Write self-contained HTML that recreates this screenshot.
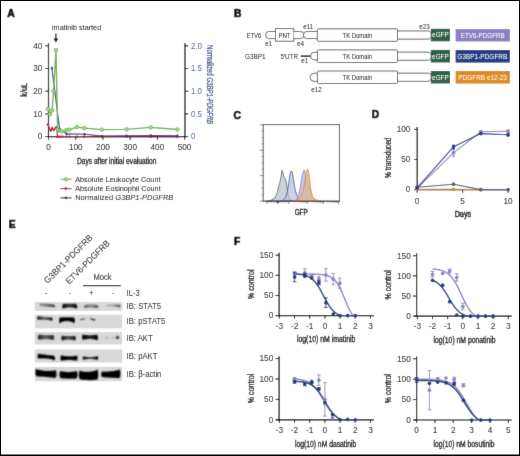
<!DOCTYPE html>
<html><head><meta charset="utf-8"><style>
html,body{margin:0;padding:0;background:#fff;}
body{width:520px;height:456px;overflow:hidden;}
svg{display:block;font-family:"Liberation Sans", sans-serif;}
</style></head><body>
<svg width="520" height="456" viewBox="0 0 520 456">
<defs><filter id="gb" x="0" y="0" width="520" height="456" filterUnits="userSpaceOnUse"><feConvolveMatrix order="3" kernelMatrix="0.0108 0.1040 0.0108 0.1040 1.0000 0.1040 0.0108 0.1040 0.0108" divisor="1.4592" edgeMode="duplicate"/></filter></defs>
<g filter="url(#gb)">
<rect x="0" y="0" width="520" height="456" fill="#fff"/>
<text x="7.2" y="16.6" font-size="10.4" font-weight="bold" stroke="#000" stroke-width="0.7">A</text>
<text x="52" y="29.9" font-size="7.98" textLength="49.2" lengthAdjust="spacingAndGlyphs">imatinib started</text>
<line x1="55.9" y1="33.5" x2="55.9" y2="39.5" stroke="#000" stroke-width="1.1"/>
<path d="M53.6,38.6 L58.2,38.6 L55.9,42.8 Z" fill="#000"/>
<line x1="48.5" y1="43.2" x2="48.5" y2="137.3" stroke="#000" stroke-width="1.2"/>
<line x1="45.2" y1="136.6" x2="48.5" y2="136.6" stroke="#000" stroke-width="1"/>
<text x="42.3" y="139.4" font-size="8.2" text-anchor="end">0</text>
<line x1="45.2" y1="113.9" x2="48.5" y2="113.9" stroke="#000" stroke-width="1"/>
<text x="42.3" y="116.7" font-size="8.2" text-anchor="end">10</text>
<line x1="45.2" y1="91.2" x2="48.5" y2="91.2" stroke="#000" stroke-width="1"/>
<text x="42.3" y="94" font-size="8.2" text-anchor="end">20</text>
<line x1="45.2" y1="68.5" x2="48.5" y2="68.5" stroke="#000" stroke-width="1"/>
<text x="42.3" y="71.3" font-size="8.2" text-anchor="end">30</text>
<line x1="45.2" y1="45.8" x2="48.5" y2="45.8" stroke="#000" stroke-width="1"/>
<text x="42.3" y="48.6" font-size="8.2" text-anchor="end">40</text>
<line x1="185" y1="43.2" x2="185" y2="137.3" stroke="#000" stroke-width="1.2"/>
<line x1="185" y1="136.6" x2="188.2" y2="136.6" stroke="#000" stroke-width="1"/>
<text x="191" y="139.4" font-size="8.53" fill="#3d5594" textLength="4.39" lengthAdjust="spacingAndGlyphs">0</text>
<line x1="185" y1="113.9" x2="188.2" y2="113.9" stroke="#000" stroke-width="1"/>
<text x="191" y="116.7" font-size="8.53" fill="#3d5594" textLength="10.98" lengthAdjust="spacingAndGlyphs">0.5</text>
<line x1="185" y1="91.2" x2="188.2" y2="91.2" stroke="#000" stroke-width="1"/>
<text x="191" y="94" font-size="8.53" fill="#3d5594" textLength="10.98" lengthAdjust="spacingAndGlyphs">1.0</text>
<line x1="185" y1="68.5" x2="188.2" y2="68.5" stroke="#000" stroke-width="1"/>
<text x="191" y="71.3" font-size="8.53" fill="#3d5594" textLength="10.98" lengthAdjust="spacingAndGlyphs">1.5</text>
<line x1="185" y1="45.8" x2="188.2" y2="45.8" stroke="#000" stroke-width="1"/>
<text x="191" y="48.6" font-size="8.53" fill="#3d5594" textLength="10.98" lengthAdjust="spacingAndGlyphs">2.0</text>
<line x1="47.9" y1="136.7" x2="185.6" y2="136.7" stroke="#000" stroke-width="1.2"/>
<line x1="48.5" y1="136.7" x2="48.5" y2="139.8" stroke="#000" stroke-width="1"/>
<text x="48.5" y="150.2" font-size="8.2" text-anchor="middle">0</text>
<line x1="75.72" y1="136.7" x2="75.72" y2="139.8" stroke="#000" stroke-width="1"/>
<text x="75.72" y="150.2" font-size="8.2" text-anchor="middle">100</text>
<line x1="102.94" y1="136.7" x2="102.94" y2="139.8" stroke="#000" stroke-width="1"/>
<text x="102.94" y="150.2" font-size="8.2" text-anchor="middle">200</text>
<line x1="130.16" y1="136.7" x2="130.16" y2="139.8" stroke="#000" stroke-width="1"/>
<text x="130.16" y="150.2" font-size="8.2" text-anchor="middle">300</text>
<line x1="157.38" y1="136.7" x2="157.38" y2="139.8" stroke="#000" stroke-width="1"/>
<text x="157.38" y="150.2" font-size="8.2" text-anchor="middle">400</text>
<line x1="184.6" y1="136.7" x2="184.6" y2="139.8" stroke="#000" stroke-width="1"/>
<text x="184.6" y="150.2" font-size="8.2" text-anchor="middle">500</text>
<text transform="translate(27.4 89.8) rotate(-90)" font-size="9.4" text-anchor="middle" stroke="#000" stroke-width="0.3" textLength="14" lengthAdjust="spacingAndGlyphs">k/uL</text>
<text transform="translate(207.0 84.6) rotate(90)" font-size="9.4" text-anchor="middle" fill="#3d5594" stroke="#3d5594" stroke-width="0.32" textLength="79" lengthAdjust="spacingAndGlyphs">Normalized <tspan font-style="italic">G3BP1-PDGFRB</tspan></text>
<text x="76.9" y="163.6" font-size="9.7" stroke="#000" stroke-width="0.3" textLength="79.6" lengthAdjust="spacingAndGlyphs">Days after initial evaluation</text>
<polyline points="47.8,124.5 50.7,130.4 52.1,128 53.7,130.1 55.8,127.7 56.7,127.2 57.4,136.8 58.5,136.8 60.6,136.8 62.6,136.8 66.6,136.8 69.8,136.8 76.9,136.8 84.3,136.8 101.8,136.8 126.5,136.8 150.8,136.8 177.4,136.8" fill="none" stroke="#b5123a" stroke-width="1.1" stroke-linejoin="round"/>
<circle cx="47.8" cy="124.5" r="1.25" fill="#b5123a"/>
<circle cx="50.7" cy="130.4" r="1.25" fill="#b5123a"/>
<circle cx="52.1" cy="128" r="1.25" fill="#b5123a"/>
<circle cx="53.7" cy="130.1" r="1.25" fill="#b5123a"/>
<circle cx="55.8" cy="127.7" r="1.25" fill="#b5123a"/>
<circle cx="56.7" cy="127.2" r="1.25" fill="#b5123a"/>
<circle cx="57.4" cy="136.8" r="1.25" fill="#b5123a"/>
<circle cx="58.5" cy="136.8" r="1.25" fill="#b5123a"/>
<circle cx="60.6" cy="136.8" r="1.25" fill="#b5123a"/>
<circle cx="62.6" cy="136.8" r="1.25" fill="#b5123a"/>
<circle cx="66.6" cy="136.8" r="1.25" fill="#b5123a"/>
<circle cx="69.8" cy="136.8" r="1.25" fill="#b5123a"/>
<circle cx="76.9" cy="136.8" r="1.25" fill="#b5123a"/>
<circle cx="84.3" cy="136.8" r="1.25" fill="#b5123a"/>
<circle cx="101.8" cy="136.8" r="1.25" fill="#b5123a"/>
<circle cx="126.5" cy="136.8" r="1.25" fill="#b5123a"/>
<circle cx="150.8" cy="136.8" r="1.25" fill="#b5123a"/>
<circle cx="177.4" cy="136.8" r="1.25" fill="#b5123a"/>
<polyline points="51.9,68.1 59.6,129 66.6,133.9 84.6,134.2 101.8,136 126.5,135.8 150.8,135.5 177.4,135.8" fill="none" stroke="#1f3c80" stroke-width="1.1" stroke-linejoin="round"/>
<circle cx="51.9" cy="68.1" r="1.3" fill="#1f3c80"/>
<circle cx="59.6" cy="129" r="1.3" fill="#1f3c80"/>
<circle cx="66.6" cy="133.9" r="1.3" fill="#1f3c80"/>
<circle cx="84.6" cy="134.2" r="1.3" fill="#1f3c80"/>
<circle cx="101.8" cy="136" r="1.3" fill="#1f3c80"/>
<circle cx="126.5" cy="135.8" r="1.3" fill="#1f3c80"/>
<circle cx="150.8" cy="135.5" r="1.3" fill="#1f3c80"/>
<circle cx="177.4" cy="135.8" r="1.3" fill="#1f3c80"/>
<polyline points="48,109 49.9,114.2 52.2,110.3 53.5,91.2 56,50.1 57.6,129.5 59.5,130.7 61.8,131.4 66.2,130.1 69.5,129.6 76.9,127 84.3,128.1 101.8,129.6 126.5,129.3 150.8,127.4 177.4,129.5" fill="none" stroke="#6db24f" stroke-width="1.35" stroke-linejoin="round"/>
<circle cx="48" cy="109" r="1.7" fill="#b3d99f" stroke="#6db24f" stroke-width="1"/>
<circle cx="49.9" cy="114.2" r="1.7" fill="#b3d99f" stroke="#6db24f" stroke-width="1"/>
<circle cx="52.2" cy="110.3" r="1.7" fill="#b3d99f" stroke="#6db24f" stroke-width="1"/>
<circle cx="53.5" cy="91.2" r="1.7" fill="#b3d99f" stroke="#6db24f" stroke-width="1"/>
<circle cx="56" cy="50.1" r="1.7" fill="#b3d99f" stroke="#6db24f" stroke-width="1"/>
<circle cx="57.6" cy="129.5" r="1.7" fill="#b3d99f" stroke="#6db24f" stroke-width="1"/>
<circle cx="59.5" cy="130.7" r="1.7" fill="#b3d99f" stroke="#6db24f" stroke-width="1"/>
<circle cx="61.8" cy="131.4" r="1.7" fill="#b3d99f" stroke="#6db24f" stroke-width="1"/>
<circle cx="66.2" cy="130.1" r="1.7" fill="#b3d99f" stroke="#6db24f" stroke-width="1"/>
<circle cx="69.5" cy="129.6" r="1.7" fill="#b3d99f" stroke="#6db24f" stroke-width="1"/>
<circle cx="76.9" cy="127" r="1.7" fill="#b3d99f" stroke="#6db24f" stroke-width="1"/>
<circle cx="84.3" cy="128.1" r="1.7" fill="#b3d99f" stroke="#6db24f" stroke-width="1"/>
<circle cx="101.8" cy="129.6" r="1.7" fill="#b3d99f" stroke="#6db24f" stroke-width="1"/>
<circle cx="126.5" cy="129.3" r="1.7" fill="#b3d99f" stroke="#6db24f" stroke-width="1"/>
<circle cx="150.8" cy="127.4" r="1.7" fill="#b3d99f" stroke="#6db24f" stroke-width="1"/>
<circle cx="177.4" cy="129.5" r="1.7" fill="#b3d99f" stroke="#6db24f" stroke-width="1"/>
<line x1="60.4" y1="179.3" x2="71.6" y2="179.3" stroke="#6db24f" stroke-width="1.1"/>
<circle cx="65.9" cy="179.3" r="1.7" fill="#b3d99f" stroke="#6db24f" stroke-width="1"/>
<text x="75.2" y="181.8" font-size="8.0" textLength="85.3" lengthAdjust="spacingAndGlyphs">Absolute Leukocyte Count</text>
<line x1="60.4" y1="188.6" x2="71.6" y2="188.6" stroke="#b5123a" stroke-width="1.1"/>
<circle cx="65.9" cy="188.6" r="1.4" fill="#b5123a"/>
<text x="75.2" y="191.1" font-size="8.0" textLength="85.5" lengthAdjust="spacingAndGlyphs">Absolute Eosinophil Count</text>
<line x1="60.4" y1="197.9" x2="71.6" y2="197.9" stroke="#1f3c80" stroke-width="1.1"/>
<circle cx="65.9" cy="197.9" r="1.4" fill="#1f3c80"/>
<text x="75.2" y="200.4" font-size="8.0" textLength="98.2" lengthAdjust="spacingAndGlyphs">Normalized <tspan font-style="italic">G3BP1-PDGFRB</tspan></text>
<text x="233.9" y="16.9" font-size="10.2" font-weight="bold" stroke="#000" stroke-width="0.7">B</text>
<text x="246.4" y="37.9" font-size="7.34" textLength="15" lengthAdjust="spacingAndGlyphs">ETV6</text>
<text x="245" y="58.5" font-size="7.36" textLength="20.6" lengthAdjust="spacingAndGlyphs">G3BP1</text>
<path d="M275.5,31.5 L269.05,31.5 A3.55,3.55 0 0 0 269.05,38.6 L275.5,38.6" fill="#fff" stroke="#555" stroke-width="0.9"/>
<rect x="275.5" y="28.6" width="18.3" height="12.6" fill="#fff" stroke="#555" stroke-width="0.9"/>
<text x="284.5" y="37.7" font-size="7.26" text-anchor="middle" textLength="12.2" lengthAdjust="spacingAndGlyphs">PNT</text>
<path d="M293.8,31.5 L300.45,31.5 A3.55,3.55 0 0 1 300.45,38.6 L293.8,38.6" fill="#fff" stroke="#555" stroke-width="0.9"/>
<path d="M317.4,31.5 L306.95,31.5 A3.55,3.55 0 0 0 306.95,38.6 L317.4,38.6" fill="#fff" stroke="#555" stroke-width="0.9"/>
<text x="268.8" y="45.6" font-size="6.93" text-anchor="middle" textLength="7.01" lengthAdjust="spacingAndGlyphs">e1</text>
<text x="300.4" y="45.6" font-size="6.93" text-anchor="middle" textLength="7.01" lengthAdjust="spacingAndGlyphs">e4</text>
<text x="308.2" y="28.6" font-size="6.93" text-anchor="middle" textLength="10.04" lengthAdjust="spacingAndGlyphs">e11</text>
<text x="424.5" y="29" font-size="6.93" text-anchor="middle" textLength="10.51" lengthAdjust="spacingAndGlyphs">e23</text>
<text x="280.4" y="58.5" font-size="7.06" textLength="17.6" lengthAdjust="spacingAndGlyphs">5'UTR</text>
<line x1="300.8" y1="56.2" x2="310.8" y2="56.2" stroke="#000" stroke-width="1.5"/>
<path d="M317.4,52.3 L314.3,52.3 A3.8,3.8 0 0 0 314.3,59.9 L317.4,59.9" fill="#fff" stroke="#555" stroke-width="0.9"/>
<text x="304.8" y="62.6" font-size="6.93" text-anchor="middle" textLength="7.01" lengthAdjust="spacingAndGlyphs">e1</text>
<path d="M317.4,73.3 L314.1,73.3 A4,4 0 0 0 314.1,81.3 L317.4,81.3" fill="#fff" stroke="#555" stroke-width="0.9"/>
<text x="316.6" y="91.6" font-size="6.93" text-anchor="middle" textLength="10.51" lengthAdjust="spacingAndGlyphs">e12</text>
<path d="M397,30.95 L427.4,30.95 A4.1,4.1 0 0 1 427.4,39.15 L397,39.15" fill="#fff" stroke="#555" stroke-width="0.9"/>
<rect x="317.4" y="28.8" width="80.1" height="12.5" fill="#fff" stroke="#555" stroke-width="0.9" rx="1"/>
<text x="357.4" y="37.55" font-size="7.2" text-anchor="middle" textLength="29.6" lengthAdjust="spacingAndGlyphs">TK Domain</text>
<rect x="430.8" y="28.8" width="19.2" height="12.5" fill="#2f6148"/>
<text x="440.4" y="37.45" font-size="7.04" text-anchor="middle" fill="#fff" textLength="16.6" lengthAdjust="spacingAndGlyphs">eGFP</text>
<path d="M397,52.1 L427.4,52.1 A4.1,4.1 0 0 1 427.4,60.3 L397,60.3" fill="#fff" stroke="#555" stroke-width="0.9"/>
<rect x="317.4" y="49.9" width="80.1" height="12.6" fill="#fff" stroke="#555" stroke-width="0.9" rx="1"/>
<text x="357.4" y="58.7" font-size="7.2" text-anchor="middle" textLength="29.6" lengthAdjust="spacingAndGlyphs">TK Domain</text>
<rect x="430.8" y="49.9" width="19.2" height="12.6" fill="#2f6148"/>
<text x="440.4" y="58.6" font-size="7.04" text-anchor="middle" fill="#fff" textLength="16.6" lengthAdjust="spacingAndGlyphs">eGFP</text>
<path d="M397,73.15 L427.4,73.15 A4.1,4.1 0 0 1 427.4,81.35 L397,81.35" fill="#fff" stroke="#555" stroke-width="0.9"/>
<rect x="317.4" y="71" width="80.1" height="12.5" fill="#fff" stroke="#555" stroke-width="0.9" rx="1"/>
<text x="357.4" y="79.75" font-size="7.2" text-anchor="middle" textLength="29.6" lengthAdjust="spacingAndGlyphs">TK Domain</text>
<rect x="430.8" y="71" width="19.2" height="12.5" fill="#2f6148"/>
<text x="440.4" y="79.65" font-size="7.04" text-anchor="middle" fill="#fff" textLength="16.6" lengthAdjust="spacingAndGlyphs">eGFP</text>
<rect x="455.6" y="29.1" width="54.3" height="12.4" fill="#8b80c2"/>
<text x="482.75" y="37.7" font-size="7.13" text-anchor="middle" fill="#fff" textLength="44" lengthAdjust="spacingAndGlyphs">ETV6-PDGFRB</text>
<rect x="455.6" y="50" width="54.3" height="12.6" fill="#213e82"/>
<text x="482.35" y="58.7" font-size="7.13" text-anchor="middle" fill="#fff" textLength="50" lengthAdjust="spacingAndGlyphs">G3BP1-PDGFRB</text>
<rect x="455.6" y="71" width="54.3" height="12.6" fill="#dd8c1b"/>
<text x="482.65" y="79.7" font-size="7.13" text-anchor="middle" fill="#fff" textLength="48.6" lengthAdjust="spacingAndGlyphs">PDGFRB e12-23</text>
<text x="233.6" y="118.6" font-size="10.2" font-weight="bold" stroke="#000" stroke-width="0.7">C</text>
<rect x="263.2" y="124.6" width="76.2" height="76.6" fill="none" stroke="#505050" stroke-width="1"/>
<line x1="260" y1="124.9" x2="263.2" y2="124.9" stroke="#6a6a6a" stroke-width="0.8"/>
<line x1="261.6" y1="131.24" x2="263.2" y2="131.24" stroke="#6a6a6a" stroke-width="0.8"/>
<line x1="261.6" y1="137.58" x2="263.2" y2="137.58" stroke="#6a6a6a" stroke-width="0.8"/>
<line x1="261.6" y1="143.92" x2="263.2" y2="143.92" stroke="#6a6a6a" stroke-width="0.8"/>
<line x1="260" y1="150.26" x2="263.2" y2="150.26" stroke="#6a6a6a" stroke-width="0.8"/>
<line x1="261.6" y1="156.6" x2="263.2" y2="156.6" stroke="#6a6a6a" stroke-width="0.8"/>
<line x1="261.6" y1="162.94" x2="263.2" y2="162.94" stroke="#6a6a6a" stroke-width="0.8"/>
<line x1="261.6" y1="169.28" x2="263.2" y2="169.28" stroke="#6a6a6a" stroke-width="0.8"/>
<line x1="260" y1="175.62" x2="263.2" y2="175.62" stroke="#6a6a6a" stroke-width="0.8"/>
<line x1="261.6" y1="181.96" x2="263.2" y2="181.96" stroke="#6a6a6a" stroke-width="0.8"/>
<line x1="261.6" y1="188.3" x2="263.2" y2="188.3" stroke="#6a6a6a" stroke-width="0.8"/>
<line x1="261.6" y1="194.64" x2="263.2" y2="194.64" stroke="#6a6a6a" stroke-width="0.8"/>
<line x1="260" y1="200.98" x2="263.2" y2="200.98" stroke="#6a6a6a" stroke-width="0.8"/>
<line x1="267" y1="201.2" x2="267" y2="203.8" stroke="#555" stroke-width="0.8"/>
<line x1="277.8" y1="201.2" x2="277.8" y2="203.8" stroke="#555" stroke-width="0.8"/>
<line x1="288.9" y1="201.2" x2="288.9" y2="203.8" stroke="#555" stroke-width="0.8"/>
<line x1="307.7" y1="201.2" x2="307.7" y2="203.8" stroke="#555" stroke-width="0.8"/>
<line x1="323.4" y1="201.2" x2="323.4" y2="203.8" stroke="#555" stroke-width="0.8"/>
<line x1="338.6" y1="201.2" x2="338.6" y2="203.8" stroke="#555" stroke-width="0.8"/>
<line x1="269.16" y1="201.2" x2="269.16" y2="202.6" stroke="#666" stroke-width="0.7"/>
<line x1="271.32" y1="201.2" x2="271.32" y2="202.6" stroke="#666" stroke-width="0.7"/>
<line x1="273.48" y1="201.2" x2="273.48" y2="202.6" stroke="#666" stroke-width="0.7"/>
<line x1="275.64" y1="201.2" x2="275.64" y2="202.6" stroke="#666" stroke-width="0.7"/>
<line x1="280.02" y1="201.2" x2="280.02" y2="202.6" stroke="#666" stroke-width="0.7"/>
<line x1="282.24" y1="201.2" x2="282.24" y2="202.6" stroke="#666" stroke-width="0.7"/>
<line x1="284.46" y1="201.2" x2="284.46" y2="202.6" stroke="#666" stroke-width="0.7"/>
<line x1="286.68" y1="201.2" x2="286.68" y2="202.6" stroke="#666" stroke-width="0.7"/>
<line x1="294.56" y1="201.2" x2="294.56" y2="202.6" stroke="#666" stroke-width="0.7"/>
<line x1="297.87" y1="201.2" x2="297.87" y2="202.6" stroke="#666" stroke-width="0.7"/>
<line x1="300.22" y1="201.2" x2="300.22" y2="202.6" stroke="#666" stroke-width="0.7"/>
<line x1="302.04" y1="201.2" x2="302.04" y2="202.6" stroke="#666" stroke-width="0.7"/>
<line x1="303.53" y1="201.2" x2="303.53" y2="202.6" stroke="#666" stroke-width="0.7"/>
<line x1="304.79" y1="201.2" x2="304.79" y2="202.6" stroke="#666" stroke-width="0.7"/>
<line x1="305.88" y1="201.2" x2="305.88" y2="202.6" stroke="#666" stroke-width="0.7"/>
<line x1="306.84" y1="201.2" x2="306.84" y2="202.6" stroke="#666" stroke-width="0.7"/>
<line x1="312.43" y1="201.2" x2="312.43" y2="202.6" stroke="#666" stroke-width="0.7"/>
<line x1="315.19" y1="201.2" x2="315.19" y2="202.6" stroke="#666" stroke-width="0.7"/>
<line x1="317.15" y1="201.2" x2="317.15" y2="202.6" stroke="#666" stroke-width="0.7"/>
<line x1="318.67" y1="201.2" x2="318.67" y2="202.6" stroke="#666" stroke-width="0.7"/>
<line x1="319.92" y1="201.2" x2="319.92" y2="202.6" stroke="#666" stroke-width="0.7"/>
<line x1="320.97" y1="201.2" x2="320.97" y2="202.6" stroke="#666" stroke-width="0.7"/>
<line x1="321.88" y1="201.2" x2="321.88" y2="202.6" stroke="#666" stroke-width="0.7"/>
<line x1="322.68" y1="201.2" x2="322.68" y2="202.6" stroke="#666" stroke-width="0.7"/>
<line x1="327.98" y1="201.2" x2="327.98" y2="202.6" stroke="#666" stroke-width="0.7"/>
<line x1="330.65" y1="201.2" x2="330.65" y2="202.6" stroke="#666" stroke-width="0.7"/>
<line x1="332.55" y1="201.2" x2="332.55" y2="202.6" stroke="#666" stroke-width="0.7"/>
<line x1="334.02" y1="201.2" x2="334.02" y2="202.6" stroke="#666" stroke-width="0.7"/>
<line x1="335.23" y1="201.2" x2="335.23" y2="202.6" stroke="#666" stroke-width="0.7"/>
<line x1="336.25" y1="201.2" x2="336.25" y2="202.6" stroke="#666" stroke-width="0.7"/>
<line x1="337.13" y1="201.2" x2="337.13" y2="202.6" stroke="#666" stroke-width="0.7"/>
<line x1="337.9" y1="201.2" x2="337.9" y2="202.6" stroke="#666" stroke-width="0.7"/>
<rect x="276.8" y="201" width="2" height="2" fill="#111"/>
<path d="M267.5,200.8 L267.5,200.8 L270.9,200.3 L275,198 L277.3,192.8 L278.4,187 L279.6,183.6 L281.1,176.7 L281.9,170.3 L282.7,172 L283.6,176.1 L285.3,179 L286.5,183 L287,187 L287.6,191.7 L288.8,197.4 L291.1,200.3 L293,200.8 L293,200.8 Z" fill="#c7c9d1" fill-opacity="0.85" stroke="#505a70" stroke-width="0.8"/>
<path d="M281,200.8 L281,200.8 L283,200.3 L285.9,196.9 L287.6,190.5 L288.8,182.5 L290,174.4 L291.1,170.7 L292.3,172 L293.4,179 L294.6,187 L296.3,194 L298.6,198.6 L300.9,200.5 L302.5,200.8 L302.5,200.8 Z" fill="#bfc3de" fill-opacity="0.75" stroke="#3a5498" stroke-width="0.8"/>
<path d="M294,200.8 L294,200.8 L296.3,200.3 L298.6,195.1 L300.3,187 L301.5,179 L302.6,173.8 L304.1,169.8 L304.9,172 L306.1,176.7 L307.5,181.5 L308.8,186 L310.1,190.5 L311.5,195 L313,198 L315.5,200.3 L317,200.8 L317,200.8 Z" fill="#b9b0e0" fill-opacity="0.75" stroke="#8a80cc" stroke-width="0.8"/>
<path d="M293,200.8 L293,200.8 L295.1,200.6 L298.5,199 L300.9,196.3 L303.2,190.5 L304.9,181.3 L306.1,173.2 L307.3,169.2 L308.4,170.9 L309.6,179 L310.7,189.4 L312.4,196.3 L315.9,199.8 L319.4,200.6 L321,200.8 L321,200.8 Z" fill="#d9b89a" fill-opacity="0.8" stroke="#e0901e" stroke-width="0.9"/>
<line x1="263.2" y1="201.2" x2="339.4" y2="201.2" stroke="#404040" stroke-width="1"/>
<text x="301.2" y="215.4" font-size="9" text-anchor="middle" stroke="#000" stroke-width="0.45" textLength="13" lengthAdjust="spacingAndGlyphs">GFP</text>
<text x="371.8" y="118" font-size="10.2" font-weight="bold" stroke="#000" stroke-width="0.7">D</text>
<line x1="417.2" y1="127" x2="417.2" y2="190.2" stroke="#000" stroke-width="1.2"/>
<line x1="416.8" y1="189.7" x2="509.5" y2="189.7" stroke="#000" stroke-width="1.2"/>
<line x1="414" y1="189.6" x2="417.2" y2="189.6" stroke="#000" stroke-width="1"/>
<text x="410.4" y="192.4" font-size="8.2" text-anchor="end">0</text>
<line x1="414" y1="159.5" x2="417.2" y2="159.5" stroke="#000" stroke-width="1"/>
<text x="410.4" y="162.3" font-size="8.2" text-anchor="end">50</text>
<line x1="414" y1="129.4" x2="417.2" y2="129.4" stroke="#000" stroke-width="1"/>
<text x="410.4" y="132.2" font-size="8.2" text-anchor="end">100</text>
<line x1="417.1" y1="189.7" x2="417.1" y2="192.8" stroke="#000" stroke-width="1"/>
<text x="417.1" y="203.7" font-size="8.2" text-anchor="middle">0</text>
<line x1="462.6" y1="189.7" x2="462.6" y2="192.8" stroke="#000" stroke-width="1"/>
<text x="462.6" y="203.7" font-size="8.2" text-anchor="middle">5</text>
<line x1="508.1" y1="189.7" x2="508.1" y2="192.8" stroke="#000" stroke-width="1"/>
<text x="508.1" y="203.7" font-size="8.2" text-anchor="middle">10</text>
<text transform="translate(391.4 157.7) rotate(-90)" font-size="9" text-anchor="middle" stroke="#000" stroke-width="0.3" textLength="40.5" lengthAdjust="spacingAndGlyphs">% transduced</text>
<text x="462.9" y="216.6" font-size="9" text-anchor="middle" stroke="#000" stroke-width="0.45" textLength="16.5" lengthAdjust="spacingAndGlyphs">Days</text>
<polyline points="417.1,189.42 453.5,189.3 480.8,189.6" fill="none" stroke="#de8d1c" stroke-width="1.1" stroke-linejoin="round"/>
<circle cx="417.1" cy="189.42" r="1.9" fill="#de8d1c"/>
<circle cx="453.5" cy="189.3" r="1.9" fill="#de8d1c"/>
<circle cx="480.8" cy="189.6" r="1.9" fill="#de8d1c"/>
<polyline points="417.1,187.19 453.5,184.18 480.8,189.6 508.1,189.6" fill="none" stroke="#4f5a75" stroke-width="1.1" stroke-linejoin="round"/>
<circle cx="417.1" cy="187.19" r="1.9" fill="#4f5a75"/>
<circle cx="453.5" cy="184.18" r="1.9" fill="#4f5a75"/>
<circle cx="480.8" cy="189.6" r="1.9" fill="#4f5a75"/>
<circle cx="508.1" cy="189.6" r="1.9" fill="#4f5a75"/>
<polyline points="417.1,188.4 453.5,152.88 480.8,131.81 508.1,131.21" fill="none" stroke="#8b80c4" stroke-width="1.1" stroke-linejoin="round"/>
<circle cx="417.1" cy="188.4" r="1.9" fill="#8b80c4"/>
<line x1="453.5" y1="149.27" x2="453.5" y2="156.49" stroke="#8b80c4" stroke-width="0.9"/>
<line x1="452" y1="149.27" x2="455" y2="149.27" stroke="#8b80c4" stroke-width="0.9"/>
<line x1="452" y1="156.49" x2="455" y2="156.49" stroke="#8b80c4" stroke-width="0.9"/>
<circle cx="453.5" cy="152.88" r="1.9" fill="#8b80c4"/>
<line x1="480.8" y1="130.91" x2="480.8" y2="132.71" stroke="#8b80c4" stroke-width="0.9"/>
<line x1="479.3" y1="130.91" x2="482.3" y2="130.91" stroke="#8b80c4" stroke-width="0.9"/>
<line x1="479.3" y1="132.71" x2="482.3" y2="132.71" stroke="#8b80c4" stroke-width="0.9"/>
<circle cx="480.8" cy="131.81" r="1.9" fill="#8b80c4"/>
<line x1="508.1" y1="130.3" x2="508.1" y2="132.11" stroke="#8b80c4" stroke-width="0.9"/>
<line x1="506.6" y1="130.3" x2="509.6" y2="130.3" stroke="#8b80c4" stroke-width="0.9"/>
<line x1="506.6" y1="132.11" x2="509.6" y2="132.11" stroke="#8b80c4" stroke-width="0.9"/>
<circle cx="508.1" cy="131.21" r="1.9" fill="#8b80c4"/>
<polyline points="417.1,187.79 453.5,146.86 480.8,133.61 508.1,134.82" fill="none" stroke="#1f3c80" stroke-width="1.1" stroke-linejoin="round"/>
<circle cx="417.1" cy="187.79" r="1.9" fill="#1f3c80"/>
<line x1="453.5" y1="145.05" x2="453.5" y2="148.66" stroke="#1f3c80" stroke-width="0.9"/>
<line x1="452" y1="145.05" x2="455" y2="145.05" stroke="#1f3c80" stroke-width="0.9"/>
<line x1="452" y1="148.66" x2="455" y2="148.66" stroke="#1f3c80" stroke-width="0.9"/>
<circle cx="453.5" cy="146.86" r="1.9" fill="#1f3c80"/>
<line x1="480.8" y1="132.71" x2="480.8" y2="134.52" stroke="#1f3c80" stroke-width="0.9"/>
<line x1="479.3" y1="132.71" x2="482.3" y2="132.71" stroke="#1f3c80" stroke-width="0.9"/>
<line x1="479.3" y1="134.52" x2="482.3" y2="134.52" stroke="#1f3c80" stroke-width="0.9"/>
<circle cx="480.8" cy="133.61" r="1.9" fill="#1f3c80"/>
<line x1="508.1" y1="133.61" x2="508.1" y2="136.02" stroke="#1f3c80" stroke-width="0.9"/>
<line x1="506.6" y1="133.61" x2="509.6" y2="133.61" stroke="#1f3c80" stroke-width="0.9"/>
<line x1="506.6" y1="136.02" x2="509.6" y2="136.02" stroke="#1f3c80" stroke-width="0.9"/>
<circle cx="508.1" cy="134.82" r="1.9" fill="#1f3c80"/>
<text x="8.7" y="228" font-size="10.2" font-weight="bold" stroke="#000" stroke-width="0.7">E</text>
<text transform="translate(47.6 284) rotate(-45)" font-size="8.97" textLength="64.5" lengthAdjust="spacingAndGlyphs">G3BP1-PDGFRB</text>
<text transform="translate(69.3 284.8) rotate(-45)" font-size="8.97" textLength="58" lengthAdjust="spacingAndGlyphs">ETV6-PDGFRB</text>
<text x="102.5" y="279.6" font-size="8.36" text-anchor="middle" textLength="18.16" lengthAdjust="spacingAndGlyphs">Mock</text>
<line x1="83" y1="285.6" x2="120.8" y2="285.6" stroke="#222" stroke-width="1.2"/>
<text x="46.3" y="296" font-size="8.36" text-anchor="middle" textLength="2.53" lengthAdjust="spacingAndGlyphs">-</text>
<text x="70" y="296" font-size="8.36" text-anchor="middle" textLength="2.53" lengthAdjust="spacingAndGlyphs">-</text>
<text x="91.3" y="296" font-size="8.36" text-anchor="middle" textLength="4.44" lengthAdjust="spacingAndGlyphs">+</text>
<text x="113" y="296" font-size="8.36" text-anchor="middle" textLength="2.53" lengthAdjust="spacingAndGlyphs">-</text>
<text x="126.6" y="296.4" font-size="8.36" textLength="13.1" lengthAdjust="spacingAndGlyphs">IL-3</text>
<rect x="34.8" y="302.1" width="87.3" height="8.8" fill="#d9d9d9"/>
<text x="126.6" y="309.2" font-size="8.78" textLength="34.37" lengthAdjust="spacingAndGlyphs">IB: STAT5</text>
<rect x="34.8" y="314.7" width="87.3" height="13.7" fill="#d9d9d9"/>
<text x="126.6" y="324.25" font-size="8.78" textLength="38.66" lengthAdjust="spacingAndGlyphs">IB: pSTAT5</text>
<rect x="34.8" y="332.1" width="87.3" height="12.3" fill="#d9d9d9"/>
<text x="126.6" y="340.95" font-size="8.78" textLength="26.1" lengthAdjust="spacingAndGlyphs">IB: AKT</text>
<rect x="34.8" y="349.3" width="87.3" height="13.3" fill="#d9d9d9"/>
<text x="126.6" y="358.65" font-size="8.78" textLength="30.81" lengthAdjust="spacingAndGlyphs">IB: pAKT</text>
<rect x="34.8" y="366.9" width="87.3" height="14.4" fill="#d9d9d9"/>
<text x="126.6" y="376.8" font-size="8.78" textLength="34.81" lengthAdjust="spacingAndGlyphs">IB: &#946;-actin</text>
<defs><filter id="bl" x="0" y="0" width="520" height="456" filterUnits="userSpaceOnUse"><feConvolveMatrix order="3" kernelMatrix="0.0938 0.3062 0.0938 0.3062 1.0000 0.3062 0.0938 0.3062 0.0938" divisor="2.6000" edgeMode="none"/></filter></defs>
<defs><linearGradient id="g1" x1="0" x2="1" y1="0" y2="0"><stop offset="0" stop-color="#999"/><stop offset="0.5" stop-color="#777"/><stop offset="1" stop-color="#444"/></linearGradient></defs>
<path d="M39.3,304.75 Q39.3,303.05 41.1,303.05 L40.29,303.14 L41.29,303.22 L42.28,303.31 L43.27,303.4 L44.27,303.49 L45.26,303.57 L46.26,303.66 L47.25,303.75 L48.24,303.84 L49.24,303.93 L50.23,304.01 L51.23,304.1 L52.22,304.19 L53.21,304.28 L54.21,304.36 L53.4,304.45 Q55.2,304.45 55.2,306 Q55.2,307.55 53.4,307.55 L54.21,307.42 L53.21,307.3 L52.22,307.19 L51.23,307.09 L50.23,306.99 L49.24,306.9 L48.24,306.82 L47.25,306.75 L46.26,306.69 L45.26,306.63 L44.27,306.58 L43.27,306.54 L42.28,306.5 L41.29,306.48 L40.29,306.46 L41.1,306.45 Q39.3,306.45 39.3,304.75 Z" fill="url(#g1)" filter="url(#bl)"/>
<defs><linearGradient id="g2" x1="0" x2="1" y1="0" y2="0"><stop offset="0" stop-color="#000"/><stop offset="0.5" stop-color="#333"/><stop offset="1" stop-color="#000"/></linearGradient></defs>
<path d="M62.1,306.4 Q62.1,303.85 63.9,303.85 L63.06,303.8 L64.01,303.75 L64.97,303.72 L65.92,303.69 L66.88,303.67 L67.84,303.65 L68.79,303.65 L69.75,303.65 L70.71,303.66 L71.66,303.68 L72.62,303.7 L73.58,303.74 L74.53,303.78 L75.49,303.83 L76.44,303.89 L75.6,303.95 Q77.4,303.95 77.4,306.45 Q77.4,308.95 75.6,308.95 L76.44,308.6 L75.49,308.29 L74.53,308.04 L73.58,307.82 L72.62,307.66 L71.66,307.54 L70.71,307.47 L69.75,307.45 L68.79,307.47 L67.84,307.54 L66.88,307.66 L65.92,307.82 L64.97,308.04 L64.01,308.29 L63.06,308.6 L63.9,308.95 Q62.1,308.95 62.1,306.4 Z" fill="url(#g2)" filter="url(#bl)"/>
<defs><linearGradient id="g3" x1="0" x2="1" y1="0" y2="0"><stop offset="0" stop-color="#666"/><stop offset="0.5" stop-color="#8a8a8a"/><stop offset="1" stop-color="#555"/></linearGradient></defs>
<path d="M83.8,306.5 Q83.8,305 85.6,305 L84.72,304.85 L85.64,304.73 L86.56,304.62 L87.47,304.54 L88.39,304.47 L89.31,304.43 L90.23,304.4 L91.15,304.4 L92.07,304.42 L92.99,304.45 L93.91,304.51 L94.83,304.59 L95.74,304.69 L96.66,304.8 L97.58,304.94 L96.7,305.1 Q98.5,305.1 98.5,306.7 Q98.5,308.3 96.7,308.3 L97.58,308.15 L96.66,308.02 L95.74,307.91 L94.83,307.81 L93.91,307.73 L92.99,307.67 L92.07,307.63 L91.15,307.6 L90.23,307.59 L89.31,307.6 L88.39,307.62 L87.47,307.66 L86.56,307.72 L85.64,307.8 L84.72,307.89 L85.6,308 Q83.8,308 83.8,306.5 Z" fill="url(#g3)" filter="url(#bl)"/>
<defs><linearGradient id="g4" x1="0" x2="1" y1="0" y2="0"><stop offset="0" stop-color="#bbb"/><stop offset="0.5" stop-color="#999"/><stop offset="1" stop-color="#555"/></linearGradient></defs>
<path d="M105.6,305.55 Q105.6,304.6 107.4,304.6 L106.54,304.59 L107.47,304.57 L108.41,304.56 L109.35,304.55 L110.29,304.54 L111.22,304.52 L112.16,304.51 L113.1,304.5 L114.04,304.49 L114.97,304.48 L115.91,304.46 L116.85,304.45 L117.79,304.44 L118.72,304.42 L119.66,304.41 L118.8,304.4 Q120.6,304.4 120.6,306.05 Q120.6,307.7 118.8,307.7 L119.66,307.48 L118.72,307.29 L117.79,307.11 L116.85,306.95 L115.91,306.81 L114.97,306.69 L114.04,306.58 L113.1,306.5 L112.16,306.43 L111.22,306.39 L110.29,306.36 L109.35,306.35 L108.41,306.36 L107.47,306.39 L106.54,306.43 L107.4,306.5 Q105.6,306.5 105.6,305.55 Z" fill="url(#g4)" filter="url(#bl)"/>
<defs><linearGradient id="g5" x1="0" x2="1" y1="0" y2="0"><stop offset="0" stop-color="#111"/><stop offset="0.5" stop-color="#666"/><stop offset="1" stop-color="#111"/></linearGradient></defs>
<path d="M37.1,317.95 Q37.1,315.95 38.9,315.95 L38.08,316.11 L39.06,316.27 L40.04,316.41 L41.02,316.54 L42.01,316.66 L42.99,316.77 L43.97,316.86 L44.95,316.95 L45.93,317.03 L46.91,317.09 L47.89,317.14 L48.88,317.19 L49.86,317.22 L50.84,317.24 L51.82,317.25 L51,317.25 Q52.8,317.25 52.8,319.1 Q52.8,320.95 51,320.95 L51.82,320.75 L50.84,320.56 L49.86,320.4 L48.88,320.25 L47.89,320.12 L46.91,320.01 L45.93,319.92 L44.95,319.85 L43.97,319.8 L42.99,319.76 L42.01,319.75 L41.02,319.75 L40.04,319.77 L39.06,319.81 L38.08,319.87 L38.9,319.95 Q37.1,319.95 37.1,317.95 Z" fill="url(#g5)" filter="url(#bl)"/>
<path d="M59,320.4 Q59,317.25 60.8,317.25 L59.99,317.22 L60.99,317.2 L61.98,317.18 L62.98,317.16 L63.97,317.15 L64.96,317.15 L65.96,317.15 L66.95,317.15 L67.94,317.16 L68.94,317.17 L69.93,317.19 L70.93,317.21 L71.92,317.24 L72.91,317.27 L73.91,317.31 L73.1,317.35 Q74.9,317.35 74.9,320.45 Q74.9,323.55 73.1,323.55 L73.91,322.99 L72.91,322.5 L71.92,322.09 L70.93,321.75 L69.93,321.49 L68.94,321.3 L67.94,321.19 L66.95,321.15 L65.96,321.19 L64.96,321.3 L63.97,321.49 L62.98,321.75 L61.98,322.09 L60.99,322.5 L59.99,322.99 L60.8,323.55 Q59,323.55 59,320.4 Z" fill="#000" filter="url(#bl)"/>
<path d="M80.6,319.7 L84.6,318.9" stroke="#555" stroke-width="1.2" stroke-linecap="round" filter="url(#bl)"/>
<path d="M90.8,318.6 L94.6,320.0" stroke="#333" stroke-width="1.4" stroke-linecap="round" filter="url(#bl)"/>
<defs><linearGradient id="g6" x1="0" x2="1" y1="0" y2="0"><stop offset="0" stop-color="#222"/><stop offset="0.5" stop-color="#666"/><stop offset="1" stop-color="#222"/></linearGradient></defs>
<path d="M37.7,337.2 Q37.7,334.45 39.5,334.45 L38.74,334.57 L39.78,334.68 L40.81,334.78 L41.85,334.86 L42.89,334.93 L43.92,334.98 L44.96,335.02 L46,335.05 L47.04,335.06 L48.08,335.06 L49.11,335.04 L50.15,335.01 L51.19,334.97 L52.22,334.91 L53.26,334.84 L52.5,334.75 Q54.3,334.75 54.3,337.45 Q54.3,340.15 52.5,340.15 L53.26,339.97 L52.22,339.82 L51.19,339.69 L50.15,339.58 L49.11,339.49 L48.08,339.42 L47.04,339.37 L46,339.35 L44.96,339.35 L43.92,339.37 L42.89,339.41 L41.85,339.47 L40.81,339.56 L39.78,339.67 L38.74,339.8 L39.5,339.95 Q37.7,339.95 37.7,337.2 Z" fill="url(#g6)" filter="url(#bl)"/>
<defs><linearGradient id="g7" x1="0" x2="1" y1="0" y2="0"><stop offset="0" stop-color="#111"/><stop offset="0.5" stop-color="#555"/><stop offset="1" stop-color="#111"/></linearGradient></defs>
<path d="M61.2,338.1 Q61.2,335.55 63,335.55 L62.12,335.66 L63.05,335.76 L63.98,335.84 L64.9,335.91 L65.83,335.97 L66.75,336.01 L67.67,336.04 L68.6,336.05 L69.53,336.05 L70.45,336.03 L71.38,336.01 L72.3,335.96 L73.22,335.91 L74.15,335.83 L75.08,335.75 L74.2,335.65 Q76,335.65 76,338.2 Q76,340.75 74.2,340.75 L75.08,340.52 L74.15,340.32 L73.22,340.15 L72.3,340.01 L71.38,339.9 L70.45,339.82 L69.53,339.77 L68.6,339.75 L67.67,339.76 L66.75,339.8 L65.83,339.86 L64.9,339.96 L63.98,340.09 L63.05,340.25 L62.12,340.43 L63,340.65 Q61.2,340.65 61.2,338.1 Z" fill="url(#g7)" filter="url(#bl)"/>
<defs><linearGradient id="g8" x1="0" x2="1" y1="0" y2="0"><stop offset="0" stop-color="#000"/><stop offset="0.5" stop-color="#222"/><stop offset="1" stop-color="#000"/></linearGradient></defs>
<path d="M82,337.2 Q82,334.25 83.8,334.25 L83,334.46 L84,334.64 L85,334.8 L86,334.92 L87,335.02 L88,335.09 L89,335.14 L90,335.15 L91,335.14 L92,335.09 L93,335.02 L94,334.92 L95,334.8 L96,334.64 L97,334.46 L96.2,334.25 Q98,334.25 98,337.45 Q98,340.65 96.2,340.65 L97,340.3 L96,340 L95,339.73 L94,339.51 L93,339.33 L92,339.2 L91,339.1 L90,339.05 L89,339.04 L88,339.07 L87,339.15 L86,339.26 L85,339.42 L84,339.62 L83,339.86 L83.8,340.15 Q82,340.15 82,337.2 Z" fill="url(#g8)" filter="url(#bl)"/>
<path d="M105.5,337.9 L108.5,337.7" stroke="#999" stroke-width="1.0" stroke-linecap="round" filter="url(#bl)"/>
<path d="M111,337.6 L115.5,337.4" stroke="#aaa" stroke-width="0.8" filter="url(#bl)"/>
<path d="M115.8,337.45 Q115.8,335.85 117.6,335.85 L116.01,335.83 L116.22,335.82 L116.44,335.8 L116.65,335.79 L116.86,335.78 L117.08,335.77 L117.29,335.76 L117.5,335.75 L117.71,335.74 L117.92,335.74 L118.14,335.74 L118.35,335.74 L118.56,335.74 L118.78,335.74 L118.99,335.74 L117.4,335.75 Q119.2,335.75 119.2,337.45 Q119.2,339.15 117.4,339.15 L118.99,339.16 L118.78,339.16 L118.56,339.16 L118.35,339.16 L118.14,339.16 L117.92,339.16 L117.71,339.16 L117.5,339.15 L117.29,339.14 L117.08,339.13 L116.86,339.12 L116.65,339.11 L116.44,339.1 L116.22,339.08 L116.01,339.07 L117.6,339.05 Q115.8,339.05 115.8,337.45 Z" fill="#333" filter="url(#bl)"/>
<path d="M37.4,356.2 Q37.4,353.45 39.2,353.45 L38.51,353.63 L39.62,353.81 L40.74,353.98 L41.85,354.15 L42.96,354.31 L44.08,354.46 L45.19,354.61 L46.3,354.75 L47.41,354.88 L48.53,355.01 L49.64,355.13 L50.75,355.25 L51.86,355.36 L52.98,355.46 L54.09,355.56 L53.4,355.65 Q55.2,355.65 55.2,358.2 Q55.2,360.75 53.4,360.75 L54.09,360.33 L52.98,359.96 L51.86,359.62 L50.75,359.33 L49.64,359.07 L48.53,358.86 L47.41,358.68 L46.3,358.55 L45.19,358.46 L44.08,358.41 L42.96,358.4 L41.85,358.43 L40.74,358.5 L39.62,358.61 L38.51,358.76 L39.2,358.95 Q37.4,358.95 37.4,356.2 Z" fill="#000" filter="url(#bl)"/>
<path d="M60.4,357.95 Q60.4,354.95 62.2,354.95 L61.48,355.24 L62.56,355.49 L63.64,355.71 L64.72,355.89 L65.81,356.03 L66.89,356.14 L67.97,356.21 L69.05,356.25 L70.13,356.25 L71.21,356.22 L72.29,356.14 L73.38,356.04 L74.46,355.89 L75.54,355.72 L76.62,355.5 L75.9,355.25 Q77.7,355.25 77.7,358.1 Q77.7,360.95 75.9,360.95 L76.62,360.74 L75.54,360.56 L74.46,360.4 L73.38,360.27 L72.29,360.18 L71.21,360.11 L70.13,360.06 L69.05,360.05 L67.97,360.06 L66.89,360.11 L65.81,360.18 L64.72,360.28 L63.64,360.4 L62.56,360.56 L61.48,360.74 L62.2,360.95 Q60.4,360.95 60.4,357.95 Z" fill="#000" filter="url(#bl)"/>
<defs><linearGradient id="g9" x1="0" x2="1" y1="0" y2="0"><stop offset="0" stop-color="#000"/><stop offset="0.5" stop-color="#444"/><stop offset="1" stop-color="#000"/></linearGradient></defs>
<path d="M82.5,358.1 Q82.5,356.15 84.3,356.15 L83.49,356.38 L84.47,356.57 L85.46,356.73 L86.45,356.86 L87.44,356.96 L88.42,357.02 L89.41,357.05 L90.4,357.05 L91.39,357.01 L92.38,356.95 L93.36,356.85 L94.35,356.71 L95.34,356.55 L96.33,356.35 L97.31,356.11 L96.5,355.85 Q98.3,355.85 98.3,358.05 Q98.3,360.25 96.5,360.25 L97.31,359.98 L96.33,359.74 L95.34,359.54 L94.35,359.38 L93.36,359.24 L92.38,359.14 L91.39,359.08 L90.4,359.05 L89.41,359.05 L88.42,359.09 L87.44,359.17 L86.45,359.28 L85.46,359.42 L84.47,359.59 L83.49,359.8 L84.3,360.05 Q82.5,360.05 82.5,358.1 Z" fill="url(#g9)" filter="url(#bl)"/>
<path d="M35.3,372.6 Q35.3,368.85 37.1,368.85 L36.63,369.23 L37.96,369.57 L39.29,369.87 L40.62,370.12 L41.96,370.34 L43.29,370.52 L44.62,370.65 L45.95,370.75 L47.28,370.8 L48.61,370.82 L49.94,370.79 L51.27,370.73 L52.61,370.62 L53.94,370.47 L55.27,370.28 L54.8,370.05 Q56.6,370.05 56.6,374.05 Q56.6,378.05 54.8,378.05 L55.27,377.91 L53.94,377.77 L52.61,377.64 L51.27,377.51 L49.94,377.39 L48.61,377.27 L47.28,377.16 L45.95,377.05 L44.62,376.95 L43.29,376.85 L41.96,376.75 L40.62,376.66 L39.29,376.58 L37.96,376.5 L36.63,376.42 L37.1,376.35 Q35.3,376.35 35.3,372.6 Z" fill="#000" filter="url(#bl)"/>
<path d="M59.4,374.4 Q59.4,370.65 61.2,370.65 L60.54,370.95 L61.67,371.22 L62.81,371.44 L63.95,371.62 L65.09,371.77 L66.22,371.87 L67.36,371.93 L68.5,371.95 L69.64,371.93 L70.77,371.87 L71.91,371.77 L73.05,371.62 L74.19,371.44 L75.32,371.22 L76.46,370.95 L75.8,370.65 Q77.6,370.65 77.6,374.6 Q77.6,378.55 75.8,378.55 L76.46,378.62 L75.32,378.67 L74.19,378.72 L73.05,378.75 L71.91,378.77 L70.77,378.77 L69.64,378.77 L68.5,378.75 L67.36,378.72 L66.22,378.68 L65.09,378.62 L63.95,378.55 L62.81,378.47 L61.67,378.38 L60.54,378.27 L61.2,378.15 Q59.4,378.15 59.4,374.4 Z" fill="#000" filter="url(#bl)"/>
<path d="M78.8,374.8 Q78.8,370.25 80.6,370.25 L80.02,370.65 L81.24,370.99 L82.46,371.27 L83.67,371.49 L84.89,371.64 L86.11,371.74 L87.33,371.78 L88.55,371.75 L89.77,371.66 L90.99,371.52 L92.21,371.31 L93.42,371.04 L94.64,370.71 L95.86,370.32 L97.08,369.86 L96.5,369.35 Q98.3,369.35 98.3,374.55 Q98.3,379.75 96.5,379.75 L97.08,379.87 L95.86,379.96 L94.64,380.04 L93.42,380.1 L92.21,380.14 L90.99,380.16 L89.77,380.17 L88.55,380.15 L87.33,380.12 L86.11,380.06 L84.89,379.99 L83.67,379.9 L82.46,379.79 L81.24,379.66 L80.02,379.52 L80.6,379.35 Q78.8,379.35 78.8,374.8 Z" fill="#000" filter="url(#bl)"/>
<path d="M101.1,374.3 Q101.1,371.45 102.9,371.45 L102.31,371.52 L103.52,371.56 L104.74,371.57 L105.95,371.56 L107.16,371.52 L108.38,371.46 L109.59,371.37 L110.8,371.25 L112.01,371.11 L113.22,370.93 L114.44,370.74 L115.65,370.51 L116.86,370.26 L118.08,369.98 L119.29,369.68 L118.7,369.35 Q120.5,369.35 120.5,373.8 Q120.5,378.25 118.7,378.25 L119.29,378.19 L118.08,378.13 L116.86,378.07 L115.65,378.01 L114.44,377.95 L113.22,377.88 L112.01,377.82 L110.8,377.75 L109.59,377.68 L108.38,377.61 L107.16,377.54 L105.95,377.46 L104.74,377.39 L103.52,377.31 L102.31,377.23 L102.9,377.15 Q101.1,377.15 101.1,374.3 Z" fill="#000" filter="url(#bl)"/>
<text x="234" y="244.6" font-size="10.2" font-weight="bold" stroke="#000" stroke-width="0.7">F</text>
<line x1="279.1" y1="252.75" x2="279.1" y2="316.2" stroke="#000" stroke-width="1.2"/>
<line x1="276.1" y1="315.6" x2="373.99" y2="315.6" stroke="#000" stroke-width="1.2"/>
<line x1="275.5" y1="315.6" x2="279.1" y2="315.6" stroke="#000" stroke-width="1"/>
<text x="273.3" y="318.4" font-size="8.3" text-anchor="end">0</text>
<line x1="275.5" y1="295.45" x2="279.1" y2="295.45" stroke="#000" stroke-width="1"/>
<text x="273.3" y="298.25" font-size="8.3" text-anchor="end">50</text>
<line x1="275.5" y1="275.3" x2="279.1" y2="275.3" stroke="#000" stroke-width="1"/>
<text x="273.3" y="278.1" font-size="8.3" text-anchor="end">100</text>
<line x1="275.5" y1="255.15" x2="279.1" y2="255.15" stroke="#000" stroke-width="1"/>
<text x="273.3" y="257.95" font-size="8.3" text-anchor="end">150</text>
<line x1="279.41" y1="315.6" x2="279.41" y2="318.6" stroke="#000" stroke-width="1"/>
<text x="279.41" y="328.8" font-size="8.3" text-anchor="middle">-3</text>
<line x1="294.59" y1="315.6" x2="294.59" y2="318.6" stroke="#000" stroke-width="1"/>
<text x="294.59" y="328.8" font-size="8.3" text-anchor="middle">-2</text>
<line x1="309.77" y1="315.6" x2="309.77" y2="318.6" stroke="#000" stroke-width="1"/>
<text x="309.77" y="328.8" font-size="8.3" text-anchor="middle">-1</text>
<line x1="324.95" y1="315.6" x2="324.95" y2="318.6" stroke="#000" stroke-width="1"/>
<text x="324.95" y="328.8" font-size="8.3" text-anchor="middle">0</text>
<line x1="340.13" y1="315.6" x2="340.13" y2="318.6" stroke="#000" stroke-width="1"/>
<text x="340.13" y="328.8" font-size="8.3" text-anchor="middle">1</text>
<line x1="355.31" y1="315.6" x2="355.31" y2="318.6" stroke="#000" stroke-width="1"/>
<text x="355.31" y="328.8" font-size="8.3" text-anchor="middle">2</text>
<line x1="370.49" y1="315.6" x2="370.49" y2="318.6" stroke="#000" stroke-width="1"/>
<text x="370.49" y="328.8" font-size="8.3" text-anchor="middle">3</text>
<text transform="translate(253.6 284.2) rotate(-90)" font-size="9" text-anchor="middle" stroke="#000" stroke-width="0.3" textLength="29.5" lengthAdjust="spacingAndGlyphs">% control</text>
<text x="326.2" y="342.3" font-size="9.4" text-anchor="middle" stroke="#000" stroke-width="0.28" textLength="58.5" lengthAdjust="spacingAndGlyphs">log(10) nM imatinib</text>
<polyline points="294.59,274.09 295.1,274.09 295.6,274.09 296.11,274.09 296.61,274.09 297.12,274.1 297.63,274.1 298.13,274.1 298.64,274.1 299.14,274.1 299.65,274.1 300.16,274.1 300.66,274.1 301.17,274.1 301.67,274.1 302.18,274.1 302.69,274.1 303.19,274.1 303.7,274.11 304.2,274.11 304.71,274.11 305.22,274.11 305.72,274.11 306.23,274.12 306.73,274.12 307.24,274.12 307.75,274.13 308.25,274.13 308.76,274.13 309.26,274.14 309.77,274.14 310.28,274.15 310.78,274.15 311.29,274.16 311.79,274.17 312.3,274.17 312.81,274.18 313.31,274.19 313.82,274.2 314.32,274.22 314.83,274.23 315.34,274.24 315.84,274.26 316.35,274.28 316.85,274.3 317.36,274.32 317.87,274.34 318.37,274.37 318.88,274.39 319.38,274.43 319.89,274.46 320.4,274.5 320.9,274.54 321.41,274.59 321.91,274.64 322.42,274.7 322.93,274.76 323.43,274.83 323.94,274.91 324.44,274.99 324.95,275.08 325.46,275.18 325.96,275.3 326.47,275.42 326.97,275.55 327.48,275.7 327.99,275.87 328.49,276.05 329,276.24 329.5,276.46 330.01,276.69 330.52,276.95 331.02,277.23 331.53,277.54 332.03,277.87 332.54,278.23 333.05,278.63 333.55,279.06 334.06,279.52 334.56,280.02 335.07,280.56 335.58,281.15 336.08,281.77 336.59,282.44 337.09,283.16 337.6,283.92 338.11,284.73 338.61,285.59 339.12,286.49 339.62,287.44 340.13,288.44 340.64,289.48 341.14,290.56 341.65,291.67 342.15,292.82 342.66,293.99 343.17,295.19 343.67,296.41 344.18,297.64 344.68,298.88 345.19,300.11 345.7,301.34 346.2,302.56 346.71,303.76 347.21,304.93 347.72,306.08 348.23,307.2 348.73,308.27 349.24,309.31 349.74,310.31 350.25,311.26 350.76,312.16 351.26,313.02 351.77,313.83 352.27,314.59 352.78,315.31 353.29,315.6 353.79,315.6 354.3,315.6 354.8,315.6 355.31,315.6" fill="none" stroke="#8f84c6" stroke-width="1.45" stroke-linejoin="round"/>
<polyline points="294.59,273.97 295.1,274 295.6,274.03 296.11,274.06 296.61,274.09 297.12,274.13 297.63,274.17 298.13,274.21 298.64,274.26 299.14,274.31 299.65,274.37 300.16,274.43 300.66,274.5 301.17,274.57 301.67,274.65 302.18,274.74 302.69,274.84 303.19,274.94 303.7,275.05 304.2,275.17 304.71,275.3 305.22,275.45 305.72,275.6 306.23,275.77 306.73,275.95 307.24,276.15 307.75,276.36 308.25,276.59 308.76,276.84 309.26,277.11 309.77,277.4 310.28,277.71 310.78,278.04 311.29,278.4 311.79,278.79 312.3,279.2 312.81,279.64 313.31,280.11 313.82,280.61 314.32,281.14 314.83,281.7 315.34,282.29 315.84,282.92 316.35,283.58 316.85,284.27 317.36,285 317.87,285.75 318.37,286.54 318.88,287.36 319.38,288.2 319.89,289.07 320.4,289.97 320.9,290.88 321.41,291.81 321.91,292.76 322.42,293.72 322.93,294.68 323.43,295.65 323.94,296.62 324.44,297.59 324.95,298.54 325.46,299.49 325.96,300.42 326.47,301.34 326.97,302.23 327.48,303.1 327.99,303.94 328.49,304.76 329,305.55 329.5,306.31 330.01,307.03 330.52,307.72 331.02,308.38 331.53,309.01 332.03,309.6 332.54,310.17 333.05,310.7 333.55,311.2 334.06,311.66 334.56,312.1 335.07,312.52 335.58,312.9 336.08,313.26 336.59,313.59 337.09,313.9 337.6,314.19 338.11,314.46 338.61,314.71 339.12,314.94 339.62,315.15 340.13,315.35 340.64,315.53 341.14,315.6 341.65,315.6 342.15,315.6 342.66,315.6 343.17,315.6 343.67,315.6 344.18,315.6 344.68,315.6 345.19,315.6 345.7,315.6 346.2,315.6 346.71,315.6 347.21,315.6 347.72,315.6 348.23,315.6 348.73,315.6 349.24,315.6 349.74,315.6 350.25,315.6 350.76,315.6 351.26,315.6 351.77,315.6 352.27,315.6 352.78,315.6 353.29,315.6 353.79,315.6 354.3,315.6 354.8,315.6 355.31,315.6" fill="none" stroke="#1f3a7c" stroke-width="1.45" stroke-linejoin="round"/>
<line x1="294.59" y1="271.67" x2="294.59" y2="275.7" stroke="#8f84c6" stroke-width="0.9"/>
<line x1="292.69" y1="271.67" x2="296.49" y2="271.67" stroke="#8f84c6" stroke-width="0.9"/>
<line x1="292.69" y1="275.7" x2="296.49" y2="275.7" stroke="#8f84c6" stroke-width="0.9"/>
<circle cx="294.59" cy="273.69" r="1.85" fill="#8f84c6"/>
<line x1="304.76" y1="268.85" x2="304.76" y2="276.91" stroke="#8f84c6" stroke-width="0.9"/>
<line x1="302.86" y1="268.85" x2="306.66" y2="268.85" stroke="#8f84c6" stroke-width="0.9"/>
<line x1="302.86" y1="276.91" x2="306.66" y2="276.91" stroke="#8f84c6" stroke-width="0.9"/>
<circle cx="304.76" cy="272.88" r="1.85" fill="#8f84c6"/>
<line x1="311.74" y1="274.09" x2="311.74" y2="276.51" stroke="#8f84c6" stroke-width="0.9"/>
<line x1="309.84" y1="274.09" x2="313.64" y2="274.09" stroke="#8f84c6" stroke-width="0.9"/>
<line x1="309.84" y1="276.51" x2="313.64" y2="276.51" stroke="#8f84c6" stroke-width="0.9"/>
<circle cx="311.74" cy="275.3" r="1.85" fill="#8f84c6"/>
<line x1="318.88" y1="276.71" x2="318.88" y2="281.55" stroke="#8f84c6" stroke-width="0.9"/>
<line x1="316.98" y1="276.71" x2="320.78" y2="276.71" stroke="#8f84c6" stroke-width="0.9"/>
<line x1="316.98" y1="281.55" x2="320.78" y2="281.55" stroke="#8f84c6" stroke-width="0.9"/>
<circle cx="318.88" cy="279.13" r="1.85" fill="#8f84c6"/>
<line x1="325.86" y1="268.65" x2="325.86" y2="281.14" stroke="#8f84c6" stroke-width="0.9"/>
<line x1="323.96" y1="268.65" x2="327.76" y2="268.65" stroke="#8f84c6" stroke-width="0.9"/>
<line x1="323.96" y1="281.14" x2="327.76" y2="281.14" stroke="#8f84c6" stroke-width="0.9"/>
<circle cx="325.86" cy="274.9" r="1.85" fill="#8f84c6"/>
<line x1="333.3" y1="273.57" x2="333.3" y2="284.69" stroke="#8f84c6" stroke-width="0.9"/>
<line x1="331.4" y1="273.57" x2="335.2" y2="273.57" stroke="#8f84c6" stroke-width="0.9"/>
<line x1="331.4" y1="284.69" x2="335.2" y2="284.69" stroke="#8f84c6" stroke-width="0.9"/>
<circle cx="333.3" cy="279.13" r="1.85" fill="#8f84c6"/>
<line x1="339.83" y1="278.2" x2="339.83" y2="288.2" stroke="#8f84c6" stroke-width="0.9"/>
<line x1="337.93" y1="278.2" x2="341.73" y2="278.2" stroke="#8f84c6" stroke-width="0.9"/>
<line x1="337.93" y1="288.2" x2="341.73" y2="288.2" stroke="#8f84c6" stroke-width="0.9"/>
<circle cx="339.83" cy="283.2" r="1.85" fill="#8f84c6"/>
<circle cx="347.72" cy="315.6" r="1.85" fill="#8f84c6"/>
<circle cx="355.31" cy="315.6" r="1.85" fill="#8f84c6"/>
<line x1="294.59" y1="272.48" x2="294.59" y2="281.75" stroke="#1f3a7c" stroke-width="0.9"/>
<line x1="292.69" y1="272.48" x2="296.49" y2="272.48" stroke="#1f3a7c" stroke-width="0.9"/>
<line x1="292.69" y1="281.75" x2="296.49" y2="281.75" stroke="#1f3a7c" stroke-width="0.9"/>
<circle cx="294.59" cy="277.11" r="1.85" fill="#1f3a7c"/>
<line x1="304.76" y1="273.29" x2="304.76" y2="277.31" stroke="#1f3a7c" stroke-width="0.9"/>
<line x1="302.86" y1="273.29" x2="306.66" y2="273.29" stroke="#1f3a7c" stroke-width="0.9"/>
<line x1="302.86" y1="277.31" x2="306.66" y2="277.31" stroke="#1f3a7c" stroke-width="0.9"/>
<circle cx="304.76" cy="275.3" r="1.85" fill="#1f3a7c"/>
<circle cx="311.74" cy="278.12" r="1.85" fill="#1f3a7c"/>
<line x1="318.88" y1="280.78" x2="318.88" y2="284.81" stroke="#1f3a7c" stroke-width="0.9"/>
<line x1="316.98" y1="280.78" x2="320.78" y2="280.78" stroke="#1f3a7c" stroke-width="0.9"/>
<line x1="316.98" y1="284.81" x2="320.78" y2="284.81" stroke="#1f3a7c" stroke-width="0.9"/>
<circle cx="318.88" cy="282.8" r="1.85" fill="#1f3a7c"/>
<line x1="325.86" y1="297.87" x2="325.86" y2="307.54" stroke="#1f3a7c" stroke-width="0.9"/>
<line x1="323.96" y1="297.87" x2="327.76" y2="297.87" stroke="#1f3a7c" stroke-width="0.9"/>
<line x1="323.96" y1="307.54" x2="327.76" y2="307.54" stroke="#1f3a7c" stroke-width="0.9"/>
<circle cx="325.86" cy="302.7" r="1.85" fill="#1f3a7c"/>
<circle cx="333.3" cy="313.99" r="1.85" fill="#1f3a7c"/>
<circle cx="340.13" cy="315.6" r="1.85" fill="#1f3a7c"/>
<circle cx="347.72" cy="315.6" r="1.85" fill="#1f3a7c"/>
<circle cx="355.31" cy="315.6" r="1.85" fill="#1f3a7c"/>
<line x1="416.6" y1="253.35" x2="416.6" y2="316.8" stroke="#000" stroke-width="1.2"/>
<line x1="413.6" y1="316.2" x2="511.75" y2="316.2" stroke="#000" stroke-width="1.2"/>
<line x1="413" y1="316.2" x2="416.6" y2="316.2" stroke="#000" stroke-width="1"/>
<text x="410.8" y="319" font-size="8.3" text-anchor="end">0</text>
<line x1="413" y1="296.05" x2="416.6" y2="296.05" stroke="#000" stroke-width="1"/>
<text x="410.8" y="298.85" font-size="8.3" text-anchor="end">50</text>
<line x1="413" y1="275.9" x2="416.6" y2="275.9" stroke="#000" stroke-width="1"/>
<text x="410.8" y="278.7" font-size="8.3" text-anchor="end">100</text>
<line x1="413" y1="255.75" x2="416.6" y2="255.75" stroke="#000" stroke-width="1"/>
<text x="410.8" y="258.55" font-size="8.3" text-anchor="end">150</text>
<line x1="417.35" y1="316.2" x2="417.35" y2="319.2" stroke="#000" stroke-width="1"/>
<text x="417.35" y="329.4" font-size="8.3" text-anchor="middle">-3</text>
<line x1="432.5" y1="316.2" x2="432.5" y2="319.2" stroke="#000" stroke-width="1"/>
<text x="432.5" y="329.4" font-size="8.3" text-anchor="middle">-2</text>
<line x1="447.65" y1="316.2" x2="447.65" y2="319.2" stroke="#000" stroke-width="1"/>
<text x="447.65" y="329.4" font-size="8.3" text-anchor="middle">-1</text>
<line x1="462.8" y1="316.2" x2="462.8" y2="319.2" stroke="#000" stroke-width="1"/>
<text x="462.8" y="329.4" font-size="8.3" text-anchor="middle">0</text>
<line x1="477.95" y1="316.2" x2="477.95" y2="319.2" stroke="#000" stroke-width="1"/>
<text x="477.95" y="329.4" font-size="8.3" text-anchor="middle">1</text>
<line x1="493.1" y1="316.2" x2="493.1" y2="319.2" stroke="#000" stroke-width="1"/>
<text x="493.1" y="329.4" font-size="8.3" text-anchor="middle">2</text>
<line x1="508.25" y1="316.2" x2="508.25" y2="319.2" stroke="#000" stroke-width="1"/>
<text x="508.25" y="329.4" font-size="8.3" text-anchor="middle">3</text>
<text transform="translate(391.1 284.8) rotate(-90)" font-size="9" text-anchor="middle" stroke="#000" stroke-width="0.3" textLength="29.5" lengthAdjust="spacingAndGlyphs">% control</text>
<text x="464.5" y="342.9" font-size="9.4" text-anchor="middle" stroke="#000" stroke-width="0.28" textLength="62" lengthAdjust="spacingAndGlyphs">log(10) nM ponatinib</text>
<polyline points="432.5,269.06 433,269.1 433.51,269.14 434.01,269.18 434.52,269.23 435.03,269.28 435.53,269.33 436.04,269.39 436.54,269.46 437.05,269.53 437.55,269.6 438.06,269.69 438.56,269.78 439.06,269.87 439.57,269.98 440.07,270.09 440.58,270.22 441.09,270.35 441.59,270.49 442.1,270.65 442.6,270.82 443.11,271 443.61,271.2 444.12,271.41 444.62,271.64 445.12,271.89 445.63,272.16 446.13,272.44 446.64,272.75 447.15,273.08 447.65,273.43 448.16,273.81 448.66,274.22 449.17,274.65 449.67,275.12 450.18,275.61 450.68,276.13 451.19,276.69 451.69,277.28 452.19,277.91 452.7,278.56 453.2,279.26 453.71,279.99 454.22,280.75 454.72,281.55 455.23,282.39 455.73,283.25 456.24,284.15 456.74,285.08 457.25,286.04 457.75,287.03 458.25,288.04 458.76,289.07 459.26,290.12 459.77,291.19 460.28,292.27 460.78,293.35 461.29,294.44 461.79,295.53 462.3,296.61 462.8,297.69 463.31,298.75 463.81,299.8 464.31,300.83 464.82,301.85 465.32,302.83 465.83,303.79 466.34,304.72 466.84,305.62 467.35,306.49 467.85,307.32 468.36,308.12 468.86,308.89 469.37,309.62 469.87,310.31 470.38,310.97 470.88,311.59 471.38,312.18 471.89,312.74 472.4,313.27 472.9,313.76 473.41,314.22 473.91,314.66 474.42,315.06 474.92,315.44 475.43,315.8 475.93,316.13 476.44,316.2 476.94,316.2 477.44,316.2 477.95,316.2 478.45,316.2 478.96,316.2 479.47,316.2 479.97,316.2 480.48,316.2 480.98,316.2 481.49,316.2 481.99,316.2 482.5,316.2 483,316.2 483.5,316.2 484.01,316.2 484.51,316.2 485.02,316.2 485.53,316.2 486.03,316.2 486.54,316.2 487.04,316.2 487.55,316.2 488.05,316.2 488.56,316.2 489.06,316.2 489.56,316.2 490.07,316.2 490.57,316.2 491.08,316.2 491.59,316.2 492.09,316.2 492.6,316.2 493.1,316.2" fill="none" stroke="#8f84c6" stroke-width="1.45" stroke-linejoin="round"/>
<polyline points="432.5,280.44 433,280.62 433.51,280.82 434.01,281.03 434.52,281.26 435.03,281.51 435.53,281.78 436.04,282.07 436.54,282.38 437.05,282.72 437.55,283.07 438.06,283.45 438.56,283.86 439.06,284.29 439.57,284.75 440.07,285.24 440.58,285.76 441.09,286.31 441.59,286.88 442.1,287.49 442.6,288.12 443.11,288.78 443.61,289.47 444.12,290.19 444.62,290.93 445.12,291.7 445.63,292.49 446.13,293.29 446.64,294.12 447.15,294.95 447.65,295.8 448.16,296.66 448.66,297.52 449.17,298.38 449.67,299.24 450.18,300.1 450.68,300.94 451.19,301.78 451.69,302.6 452.19,303.4 452.7,304.18 453.2,304.95 453.71,305.68 454.22,306.39 454.72,307.08 455.23,307.74 455.73,308.36 456.24,308.96 456.74,309.53 457.25,310.07 457.75,310.58 458.25,311.07 458.76,311.52 459.26,311.95 459.77,312.35 460.28,312.73 460.78,313.08 461.29,313.41 461.79,313.71 462.3,314 462.8,314.26 463.31,314.51 463.81,314.74 464.31,314.95 464.82,315.15 465.32,315.33 465.83,315.49 466.34,315.65 466.84,315.79 467.35,315.92 467.85,316.04 468.36,316.16 468.86,316.2 469.37,316.2 469.87,316.2 470.38,316.2 470.88,316.2 471.38,316.2 471.89,316.2 472.4,316.2 472.9,316.2 473.41,316.2 473.91,316.2 474.42,316.2 474.92,316.2 475.43,316.2 475.93,316.2 476.44,316.2 476.94,316.2 477.44,316.2 477.95,316.2 478.45,316.2 478.96,316.2 479.47,316.2 479.97,316.2 480.48,316.2 480.98,316.2 481.49,316.2 481.99,316.2 482.5,316.2 483,316.2 483.5,316.2 484.01,316.2 484.51,316.2 485.02,316.2 485.53,316.2 486.03,316.2 486.54,316.2 487.04,316.2 487.55,316.2 488.05,316.2 488.56,316.2 489.06,316.2 489.56,316.2 490.07,316.2 490.57,316.2 491.08,316.2 491.59,316.2 492.09,316.2 492.6,316.2 493.1,316.2" fill="none" stroke="#1f3a7c" stroke-width="1.45" stroke-linejoin="round"/>
<line x1="432.5" y1="271.47" x2="432.5" y2="277.11" stroke="#8f84c6" stroke-width="0.9"/>
<line x1="430.6" y1="271.47" x2="434.4" y2="271.47" stroke="#8f84c6" stroke-width="0.9"/>
<line x1="430.6" y1="277.11" x2="434.4" y2="277.11" stroke="#8f84c6" stroke-width="0.9"/>
<circle cx="432.5" cy="274.29" r="1.85" fill="#8f84c6"/>
<circle cx="442.65" cy="273.48" r="1.85" fill="#8f84c6"/>
<line x1="449.62" y1="269.05" x2="449.62" y2="273.08" stroke="#8f84c6" stroke-width="0.9"/>
<line x1="447.72" y1="269.05" x2="451.52" y2="269.05" stroke="#8f84c6" stroke-width="0.9"/>
<line x1="447.72" y1="273.08" x2="451.52" y2="273.08" stroke="#8f84c6" stroke-width="0.9"/>
<circle cx="449.62" cy="271.06" r="1.85" fill="#8f84c6"/>
<line x1="456.74" y1="273.88" x2="456.74" y2="281.14" stroke="#8f84c6" stroke-width="0.9"/>
<line x1="454.84" y1="273.88" x2="458.64" y2="273.88" stroke="#8f84c6" stroke-width="0.9"/>
<line x1="454.84" y1="281.14" x2="458.64" y2="281.14" stroke="#8f84c6" stroke-width="0.9"/>
<circle cx="456.74" cy="277.51" r="1.85" fill="#8f84c6"/>
<line x1="462.8" y1="303.3" x2="462.8" y2="309.75" stroke="#8f84c6" stroke-width="0.9"/>
<line x1="460.9" y1="303.3" x2="464.7" y2="303.3" stroke="#8f84c6" stroke-width="0.9"/>
<line x1="460.9" y1="309.75" x2="464.7" y2="309.75" stroke="#8f84c6" stroke-width="0.9"/>
<circle cx="462.8" cy="306.53" r="1.85" fill="#8f84c6"/>
<circle cx="470.38" cy="316.2" r="1.85" fill="#8f84c6"/>
<circle cx="477.95" cy="316.2" r="1.85" fill="#8f84c6"/>
<circle cx="485.53" cy="316.2" r="1.85" fill="#8f84c6"/>
<circle cx="493.1" cy="316.2" r="1.85" fill="#8f84c6"/>
<circle cx="432.5" cy="280.33" r="1.85" fill="#1f3a7c"/>
<circle cx="442.65" cy="285.17" r="1.85" fill="#1f3a7c"/>
<circle cx="449.62" cy="301.69" r="1.85" fill="#1f3a7c"/>
<circle cx="456.74" cy="314.99" r="1.85" fill="#1f3a7c"/>
<circle cx="462.8" cy="316.2" r="1.85" fill="#1f3a7c"/>
<circle cx="470.38" cy="316.2" r="1.85" fill="#1f3a7c"/>
<circle cx="477.95" cy="316.2" r="1.85" fill="#1f3a7c"/>
<circle cx="485.53" cy="316.2" r="1.85" fill="#1f3a7c"/>
<circle cx="493.1" cy="316.2" r="1.85" fill="#1f3a7c"/>
<line x1="279.1" y1="356.2" x2="279.1" y2="420.4" stroke="#000" stroke-width="1.2"/>
<line x1="276.1" y1="419.8" x2="373.94" y2="419.8" stroke="#000" stroke-width="1.2"/>
<line x1="275.5" y1="419.8" x2="279.1" y2="419.8" stroke="#000" stroke-width="1"/>
<text x="273.3" y="422.6" font-size="8.3" text-anchor="end">0</text>
<line x1="275.5" y1="399.4" x2="279.1" y2="399.4" stroke="#000" stroke-width="1"/>
<text x="273.3" y="402.2" font-size="8.3" text-anchor="end">50</text>
<line x1="275.5" y1="379" x2="279.1" y2="379" stroke="#000" stroke-width="1"/>
<text x="273.3" y="381.8" font-size="8.3" text-anchor="end">100</text>
<line x1="275.5" y1="358.6" x2="279.1" y2="358.6" stroke="#000" stroke-width="1"/>
<text x="273.3" y="361.4" font-size="8.3" text-anchor="end">150</text>
<line x1="279.36" y1="419.8" x2="279.36" y2="422.8" stroke="#000" stroke-width="1"/>
<text x="279.36" y="433" font-size="8.3" text-anchor="middle">-3</text>
<line x1="294.54" y1="419.8" x2="294.54" y2="422.8" stroke="#000" stroke-width="1"/>
<text x="294.54" y="433" font-size="8.3" text-anchor="middle">-2</text>
<line x1="309.72" y1="419.8" x2="309.72" y2="422.8" stroke="#000" stroke-width="1"/>
<text x="309.72" y="433" font-size="8.3" text-anchor="middle">-1</text>
<line x1="324.9" y1="419.8" x2="324.9" y2="422.8" stroke="#000" stroke-width="1"/>
<text x="324.9" y="433" font-size="8.3" text-anchor="middle">0</text>
<line x1="340.08" y1="419.8" x2="340.08" y2="422.8" stroke="#000" stroke-width="1"/>
<text x="340.08" y="433" font-size="8.3" text-anchor="middle">1</text>
<line x1="355.26" y1="419.8" x2="355.26" y2="422.8" stroke="#000" stroke-width="1"/>
<text x="355.26" y="433" font-size="8.3" text-anchor="middle">2</text>
<line x1="370.44" y1="419.8" x2="370.44" y2="422.8" stroke="#000" stroke-width="1"/>
<text x="370.44" y="433" font-size="8.3" text-anchor="middle">3</text>
<text transform="translate(253.6 388.4) rotate(-90)" font-size="9" text-anchor="middle" stroke="#000" stroke-width="0.3" textLength="29.5" lengthAdjust="spacingAndGlyphs">% control</text>
<text x="325.6" y="446.5" font-size="9.4" text-anchor="middle" stroke="#000" stroke-width="0.28" textLength="61.4" lengthAdjust="spacingAndGlyphs">log(10) nM dasatinib</text>
<polyline points="294.54,379 295.05,379.04 295.55,379.08 296.06,379.12 296.56,379.16 297.07,379.21 297.58,379.26 298.08,379.31 298.59,379.37 299.09,379.44 299.6,379.51 300.11,379.58 300.61,379.66 301.12,379.75 301.62,379.84 302.13,379.94 302.64,380.05 303.14,380.17 303.65,380.3 304.15,380.44 304.66,380.58 305.17,380.74 305.67,380.91 306.18,381.1 306.68,381.3 307.19,381.51 307.7,381.73 308.2,381.98 308.71,382.24 309.21,382.52 309.72,382.81 310.23,383.13 310.73,383.47 311.24,383.83 311.74,384.21 312.25,384.62 312.76,385.05 313.26,385.5 313.77,385.98 314.27,386.49 314.78,387.02 315.29,387.58 315.79,388.17 316.3,388.78 316.8,389.42 317.31,390.09 317.82,390.79 318.32,391.5 318.83,392.24 319.33,393.01 319.84,393.79 320.35,394.6 320.85,395.42 321.36,396.25 321.86,397.1 322.37,397.96 322.88,398.82 323.38,399.69 323.89,400.56 324.39,401.43 324.9,402.3 325.41,403.16 325.91,404.01 326.42,404.85 326.92,405.67 327.43,406.48 327.94,407.27 328.44,408.04 328.95,408.78 329.45,409.5 329.96,410.2 330.47,410.88 330.97,411.52 331.48,412.14 331.98,412.73 332.49,413.3 333,413.84 333.5,414.35 334.01,414.84 334.51,415.3 335.02,415.73 335.53,416.14 336.03,416.53 336.54,416.89 337.04,417.24 337.55,417.56 338.06,417.86 338.56,418.14 339.07,418.4 339.57,418.65 340.08,418.88 340.59,419.1 341.09,419.3 341.6,419.48 342.1,419.66 342.61,419.8 343.12,419.8 343.62,419.8 344.13,419.8 344.63,419.8 345.14,419.8 345.65,419.8 346.15,419.8 346.66,419.8 347.16,419.8 347.67,419.8 348.18,419.8 348.68,419.8 349.19,419.8 349.69,419.8 350.2,419.8 350.71,419.8 351.21,419.8 351.72,419.8 352.22,419.8 352.73,419.8 353.24,419.8 353.74,419.8 354.25,419.8 354.75,419.8 355.26,419.8" fill="none" stroke="#8f84c6" stroke-width="1.45" stroke-linejoin="round"/>
<polyline points="294.54,381.3 295.05,381.32 295.55,381.34 296.06,381.37 296.56,381.4 297.07,381.43 297.58,381.46 298.08,381.5 298.59,381.54 299.09,381.58 299.6,381.63 300.11,381.68 300.61,381.74 301.12,381.8 301.62,381.86 302.13,381.93 302.64,382.01 303.14,382.09 303.65,382.18 304.15,382.28 304.66,382.39 305.17,382.5 305.67,382.63 306.18,382.76 306.68,382.9 307.19,383.06 307.7,383.23 308.2,383.41 308.71,383.61 309.21,383.82 309.72,384.04 310.23,384.29 310.73,384.55 311.24,384.83 311.74,385.13 312.25,385.45 312.76,385.79 313.26,386.16 313.77,386.55 314.27,386.96 314.78,387.4 315.29,387.87 315.79,388.36 316.3,388.88 316.8,389.43 317.31,390.01 317.82,390.62 318.32,391.25 318.83,391.91 319.33,392.59 319.84,393.31 320.35,394.04 320.85,394.8 321.36,395.58 321.86,396.38 322.37,397.2 322.88,398.03 323.38,398.87 323.89,399.72 324.39,400.58 324.9,401.44 325.41,402.3 325.91,403.16 326.42,404.01 326.92,404.85 327.43,405.68 327.94,406.5 328.44,407.3 328.95,408.08 329.45,408.84 329.96,409.57 330.47,410.29 330.97,410.97 331.48,411.63 331.98,412.26 332.49,412.87 333,413.45 333.5,414 334.01,414.52 334.51,415.01 335.02,415.48 335.53,415.92 336.03,416.33 336.54,416.72 337.04,417.09 337.55,417.43 338.06,417.75 338.56,418.05 339.07,418.33 339.57,418.59 340.08,418.84 340.59,419.06 341.09,419.27 341.6,419.47 342.1,419.65 342.61,419.8 343.12,419.8 343.62,419.8 344.13,419.8 344.63,419.8 345.14,419.8 345.65,419.8 346.15,419.8 346.66,419.8 347.16,419.8 347.67,419.8 348.18,419.8 348.68,419.8 349.19,419.8 349.69,419.8 350.2,419.8 350.71,419.8 351.21,419.8 351.72,419.8 352.22,419.8 352.73,419.8 353.24,419.8 353.74,419.8 354.25,419.8 354.75,419.8 355.26,419.8" fill="none" stroke="#1f3a7c" stroke-width="1.45" stroke-linejoin="round"/>
<line x1="294.54" y1="377.78" x2="294.54" y2="379.41" stroke="#8f84c6" stroke-width="0.9"/>
<line x1="292.64" y1="377.78" x2="296.44" y2="377.78" stroke="#8f84c6" stroke-width="0.9"/>
<line x1="292.64" y1="379.41" x2="296.44" y2="379.41" stroke="#8f84c6" stroke-width="0.9"/>
<circle cx="294.54" cy="378.59" r="1.85" fill="#8f84c6"/>
<circle cx="311.69" cy="381.04" r="1.85" fill="#8f84c6"/>
<line x1="318.83" y1="374.92" x2="318.83" y2="385.53" stroke="#8f84c6" stroke-width="0.9"/>
<line x1="316.93" y1="374.92" x2="320.73" y2="374.92" stroke="#8f84c6" stroke-width="0.9"/>
<line x1="316.93" y1="385.53" x2="320.73" y2="385.53" stroke="#8f84c6" stroke-width="0.9"/>
<circle cx="318.83" cy="380.22" r="1.85" fill="#8f84c6"/>
<line x1="324.9" y1="382.67" x2="324.9" y2="416.13" stroke="#8f84c6" stroke-width="0.9"/>
<line x1="323" y1="382.67" x2="326.8" y2="382.67" stroke="#8f84c6" stroke-width="0.9"/>
<line x1="323" y1="416.13" x2="326.8" y2="416.13" stroke="#8f84c6" stroke-width="0.9"/>
<circle cx="324.9" cy="399.4" r="1.85" fill="#8f84c6"/>
<circle cx="332.49" cy="417.96" r="1.85" fill="#8f84c6"/>
<line x1="294.54" y1="380.63" x2="294.54" y2="383.08" stroke="#1f3a7c" stroke-width="0.9"/>
<line x1="292.64" y1="380.63" x2="296.44" y2="380.63" stroke="#1f3a7c" stroke-width="0.9"/>
<line x1="292.64" y1="383.08" x2="296.44" y2="383.08" stroke="#1f3a7c" stroke-width="0.9"/>
<circle cx="294.54" cy="381.86" r="1.85" fill="#1f3a7c"/>
<line x1="304.71" y1="382.47" x2="304.71" y2="385.73" stroke="#1f3a7c" stroke-width="0.9"/>
<line x1="302.81" y1="382.47" x2="306.61" y2="382.47" stroke="#1f3a7c" stroke-width="0.9"/>
<line x1="302.81" y1="385.73" x2="306.61" y2="385.73" stroke="#1f3a7c" stroke-width="0.9"/>
<circle cx="304.71" cy="384.1" r="1.85" fill="#1f3a7c"/>
<line x1="311.69" y1="381.45" x2="311.69" y2="383.08" stroke="#1f3a7c" stroke-width="0.9"/>
<line x1="309.79" y1="381.45" x2="313.59" y2="381.45" stroke="#1f3a7c" stroke-width="0.9"/>
<line x1="309.79" y1="383.08" x2="313.59" y2="383.08" stroke="#1f3a7c" stroke-width="0.9"/>
<circle cx="311.69" cy="382.26" r="1.85" fill="#1f3a7c"/>
<line x1="318.83" y1="387.57" x2="318.83" y2="390.02" stroke="#1f3a7c" stroke-width="0.9"/>
<line x1="316.93" y1="387.57" x2="320.73" y2="387.57" stroke="#1f3a7c" stroke-width="0.9"/>
<line x1="316.93" y1="390.02" x2="320.73" y2="390.02" stroke="#1f3a7c" stroke-width="0.9"/>
<circle cx="318.83" cy="388.79" r="1.85" fill="#1f3a7c"/>
<circle cx="324.9" cy="402.66" r="1.85" fill="#1f3a7c"/>
<circle cx="332.49" cy="414.5" r="1.85" fill="#1f3a7c"/>
<circle cx="340.08" cy="419.8" r="1.85" fill="#1f3a7c"/>
<circle cx="347.67" cy="419.39" r="1.85" fill="#1f3a7c"/>
<circle cx="355.26" cy="419.8" r="1.85" fill="#1f3a7c"/>
<line x1="416.6" y1="356.4" x2="416.6" y2="420.6" stroke="#000" stroke-width="1.2"/>
<line x1="413.6" y1="420" x2="511.85" y2="420" stroke="#000" stroke-width="1.2"/>
<line x1="413" y1="420" x2="416.6" y2="420" stroke="#000" stroke-width="1"/>
<text x="410.8" y="422.8" font-size="8.3" text-anchor="end">0</text>
<line x1="413" y1="399.6" x2="416.6" y2="399.6" stroke="#000" stroke-width="1"/>
<text x="410.8" y="402.4" font-size="8.3" text-anchor="end">50</text>
<line x1="413" y1="379.2" x2="416.6" y2="379.2" stroke="#000" stroke-width="1"/>
<text x="410.8" y="382" font-size="8.3" text-anchor="end">100</text>
<line x1="413" y1="358.8" x2="416.6" y2="358.8" stroke="#000" stroke-width="1"/>
<text x="410.8" y="361.6" font-size="8.3" text-anchor="end">150</text>
<line x1="416.6" y1="420" x2="416.6" y2="423" stroke="#000" stroke-width="1"/>
<text x="416.6" y="433.2" font-size="8.3" text-anchor="middle">0</text>
<line x1="434.95" y1="420" x2="434.95" y2="423" stroke="#000" stroke-width="1"/>
<text x="434.95" y="433.2" font-size="8.3" text-anchor="middle">1</text>
<line x1="453.3" y1="420" x2="453.3" y2="423" stroke="#000" stroke-width="1"/>
<text x="453.3" y="433.2" font-size="8.3" text-anchor="middle">2</text>
<line x1="471.65" y1="420" x2="471.65" y2="423" stroke="#000" stroke-width="1"/>
<text x="471.65" y="433.2" font-size="8.3" text-anchor="middle">3</text>
<line x1="490" y1="420" x2="490" y2="423" stroke="#000" stroke-width="1"/>
<text x="490" y="433.2" font-size="8.3" text-anchor="middle">4</text>
<line x1="508.35" y1="420" x2="508.35" y2="423" stroke="#000" stroke-width="1"/>
<text x="508.35" y="433.2" font-size="8.3" text-anchor="middle">5</text>
<text transform="translate(391.1 388.6) rotate(-90)" font-size="9" text-anchor="middle" stroke="#000" stroke-width="0.3" textLength="29.5" lengthAdjust="spacingAndGlyphs">% control</text>
<text x="464" y="446.7" font-size="9.4" text-anchor="middle" stroke="#000" stroke-width="0.28" textLength="61" lengthAdjust="spacingAndGlyphs">log(10) nM bosutinib</text>
<polyline points="416.6,379.23 417.21,379.23 417.82,379.23 418.44,379.24 419.05,379.24 419.66,379.24 420.27,379.25 420.88,379.25 421.49,379.26 422.11,379.26 422.72,379.27 423.33,379.27 423.94,379.28 424.55,379.29 425.16,379.3 425.78,379.31 426.39,379.32 427,379.33 427.61,379.34 428.22,379.35 428.83,379.37 429.45,379.39 430.06,379.4 430.67,379.42 431.28,379.44 431.89,379.47 432.5,379.49 433.12,379.52 433.73,379.55 434.34,379.59 434.95,379.62 435.56,379.66 436.17,379.71 436.79,379.76 437.4,379.81 438.01,379.87 438.62,379.93 439.23,380 439.84,380.08 440.46,380.16 441.07,380.25 441.68,380.35 442.29,380.46 442.9,380.58 443.51,380.7 444.12,380.84 444.74,381 445.35,381.16 445.96,381.34 446.57,381.54 447.18,381.75 447.8,381.98 448.41,382.24 449.02,382.51 449.63,382.8 450.24,383.12 450.85,383.47 451.47,383.84 452.08,384.24 452.69,384.66 453.3,385.13 453.91,385.62 454.52,386.15 455.14,386.71 455.75,387.31 456.36,387.95 456.97,388.62 457.58,389.33 458.19,390.08 458.81,390.87 459.42,391.7 460.03,392.56 460.64,393.46 461.25,394.39 461.86,395.35 462.48,396.34 463.09,397.35 463.7,398.39 464.31,399.44 464.92,400.51 465.53,401.58 466.15,402.66 466.76,403.74 467.37,404.81 467.98,405.88 468.59,406.93 469.2,407.97 469.82,408.98 470.43,409.97 471.04,410.93 471.65,411.86 472.26,412.76 472.87,413.62 473.49,414.45 474.1,415.24 474.71,415.99 475.32,416.7 475.93,417.37 476.54,418.01 477.16,418.61 477.77,419.17 478.38,419.7 478.99,420 479.6,420 480.21,420 480.83,420 481.44,420 482.05,420 482.66,420 483.27,420 483.88,420 484.5,420 485.11,420 485.72,420 486.33,420 486.94,420 487.55,420 488.17,420 488.78,420 489.39,420 490,420" fill="none" stroke="#8f84c6" stroke-width="1.45" stroke-linejoin="round"/>
<polyline points="416.6,380.46 417.21,380.46 417.82,380.46 418.44,380.47 419.05,380.47 419.66,380.48 420.27,380.48 420.88,380.49 421.49,380.49 422.11,380.5 422.72,380.51 423.33,380.52 423.94,380.52 424.55,380.53 425.16,380.54 425.78,380.56 426.39,380.57 427,380.58 427.61,380.6 428.22,380.61 428.83,380.63 429.45,380.65 430.06,380.67 430.67,380.7 431.28,380.72 431.89,380.75 432.5,380.78 433.12,380.82 433.73,380.86 434.34,380.9 434.95,380.94 435.56,380.99 436.17,381.05 436.79,381.11 437.4,381.17 438.01,381.24 438.62,381.32 439.23,381.4 439.84,381.49 440.46,381.59 441.07,381.7 441.68,381.82 442.29,381.95 442.9,382.1 443.51,382.25 444.12,382.42 444.74,382.6 445.35,382.8 445.96,383.02 446.57,383.25 447.18,383.5 447.8,383.78 448.41,384.07 449.02,384.39 449.63,384.74 450.24,385.11 450.85,385.51 451.47,385.94 452.08,386.4 452.69,386.89 453.3,387.41 453.91,387.97 454.52,388.56 455.14,389.19 455.75,389.85 456.36,390.55 456.97,391.28 457.58,392.05 458.19,392.85 458.81,393.69 459.42,394.56 460.03,395.45 460.64,396.37 461.25,397.31 461.86,398.28 462.48,399.26 463.09,400.25 463.7,401.25 464.31,402.25 464.92,403.26 465.53,404.26 466.15,405.25 466.76,406.23 467.37,407.19 467.98,408.13 468.59,409.05 469.2,409.95 469.82,410.81 470.43,411.65 471.04,412.45 471.65,413.22 472.26,413.95 472.87,414.65 473.49,415.32 474.1,415.94 474.71,416.54 475.32,417.09 475.93,417.62 476.54,418.11 477.16,418.57 477.77,419 478.38,419.39 478.99,419.77 479.6,420 480.21,420 480.83,420 481.44,420 482.05,420 482.66,420 483.27,420 483.88,420 484.5,420 485.11,420 485.72,420 486.33,420 486.94,420 487.55,420 488.17,420 488.78,420 489.39,420 490,420" fill="none" stroke="#1f3a7c" stroke-width="1.45" stroke-linejoin="round"/>
<line x1="416.6" y1="377.57" x2="416.6" y2="379.2" stroke="#8f84c6" stroke-width="0.9"/>
<line x1="414.7" y1="377.57" x2="418.5" y2="377.57" stroke="#8f84c6" stroke-width="0.9"/>
<line x1="414.7" y1="379.2" x2="418.5" y2="379.2" stroke="#8f84c6" stroke-width="0.9"/>
<circle cx="416.6" cy="378.38" r="1.85" fill="#8f84c6"/>
<line x1="429.45" y1="370.63" x2="429.45" y2="409.8" stroke="#8f84c6" stroke-width="0.9"/>
<line x1="427.55" y1="370.63" x2="431.35" y2="370.63" stroke="#8f84c6" stroke-width="0.9"/>
<line x1="427.55" y1="409.8" x2="431.35" y2="409.8" stroke="#8f84c6" stroke-width="0.9"/>
<circle cx="429.45" cy="390.22" r="1.85" fill="#8f84c6"/>
<line x1="437.7" y1="377.57" x2="437.7" y2="380.02" stroke="#8f84c6" stroke-width="0.9"/>
<line x1="435.8" y1="377.57" x2="439.6" y2="377.57" stroke="#8f84c6" stroke-width="0.9"/>
<line x1="435.8" y1="380.02" x2="439.6" y2="380.02" stroke="#8f84c6" stroke-width="0.9"/>
<circle cx="437.7" cy="378.79" r="1.85" fill="#8f84c6"/>
<circle cx="445.96" cy="377.98" r="1.85" fill="#8f84c6"/>
<line x1="454.22" y1="377.16" x2="454.22" y2="381.24" stroke="#8f84c6" stroke-width="0.9"/>
<line x1="452.32" y1="377.16" x2="456.12" y2="377.16" stroke="#8f84c6" stroke-width="0.9"/>
<line x1="452.32" y1="381.24" x2="456.12" y2="381.24" stroke="#8f84c6" stroke-width="0.9"/>
<circle cx="454.22" cy="379.2" r="1.85" fill="#8f84c6"/>
<line x1="463.39" y1="383.69" x2="463.39" y2="386.95" stroke="#8f84c6" stroke-width="0.9"/>
<line x1="461.49" y1="383.69" x2="465.29" y2="383.69" stroke="#8f84c6" stroke-width="0.9"/>
<line x1="461.49" y1="386.95" x2="465.29" y2="386.95" stroke="#8f84c6" stroke-width="0.9"/>
<circle cx="463.39" cy="385.32" r="1.85" fill="#8f84c6"/>
<circle cx="480.83" cy="420" r="1.85" fill="#8f84c6"/>
<line x1="416.6" y1="377.57" x2="416.6" y2="382.46" stroke="#1f3a7c" stroke-width="0.9"/>
<line x1="414.7" y1="377.57" x2="418.5" y2="377.57" stroke="#1f3a7c" stroke-width="0.9"/>
<line x1="414.7" y1="382.46" x2="418.5" y2="382.46" stroke="#1f3a7c" stroke-width="0.9"/>
<circle cx="416.6" cy="380.02" r="1.85" fill="#1f3a7c"/>
<circle cx="429.45" cy="383.28" r="1.85" fill="#1f3a7c"/>
<circle cx="437.7" cy="382.06" r="1.85" fill="#1f3a7c"/>
<circle cx="445.96" cy="382.87" r="1.85" fill="#1f3a7c"/>
<line x1="454.22" y1="382.46" x2="454.22" y2="384.91" stroke="#1f3a7c" stroke-width="0.9"/>
<line x1="452.32" y1="382.46" x2="456.12" y2="382.46" stroke="#1f3a7c" stroke-width="0.9"/>
<line x1="452.32" y1="384.91" x2="456.12" y2="384.91" stroke="#1f3a7c" stroke-width="0.9"/>
<circle cx="454.22" cy="383.69" r="1.85" fill="#1f3a7c"/>
<circle cx="463.39" cy="400.42" r="1.85" fill="#1f3a7c"/>
<circle cx="471.65" cy="420" r="1.85" fill="#1f3a7c"/>
<circle cx="480.83" cy="420" r="1.85" fill="#1f3a7c"/>
<circle cx="490" cy="420" r="1.85" fill="#1f3a7c"/>
</g>
<rect x="0" y="0" width="520" height="1" fill="#000"/><rect x="0" y="0" width="1" height="456" fill="#000"/><rect x="519" y="0" width="1" height="456" fill="#000"/><rect x="0" y="454.5" width="520" height="1.5" fill="#000"/>
</svg>
</body></html>
